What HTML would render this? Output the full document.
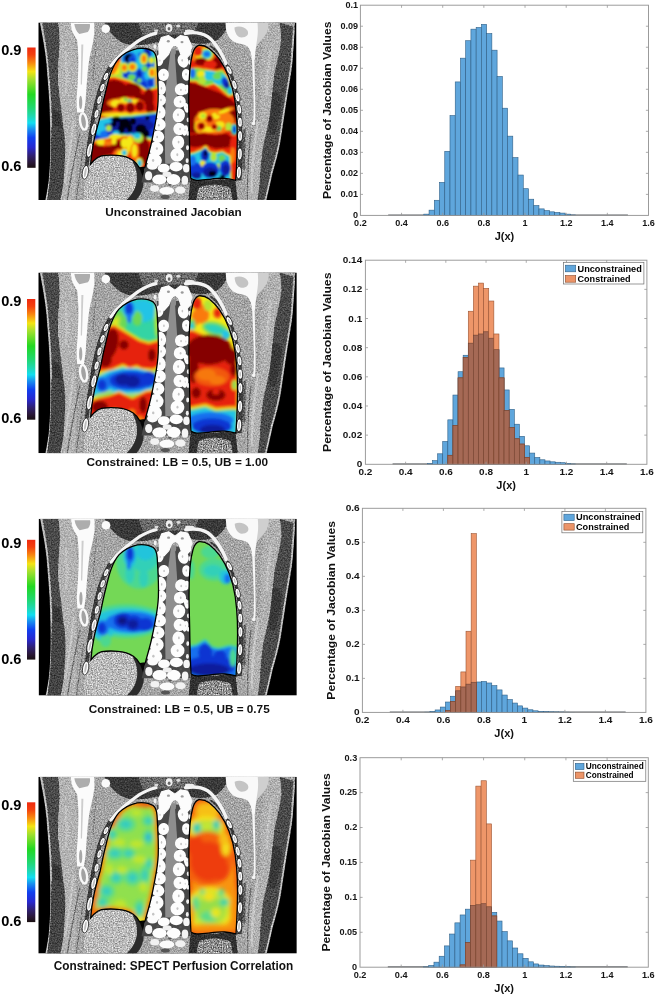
<!DOCTYPE html>
<html><head><meta charset="utf-8"><title>Figure</title>
<style>html,body{margin:0;padding:0;background:#fff}svg{display:block}text{opacity:0.999;font-family:"Liberation Sans",sans-serif;font-weight:bold;fill:#111}.tk{fill:#151515}.lb{fill:#111}.lg{fill:#000}.cb{font-size:14px;fill:#000}.cap{font-size:11.7px;fill:#111}</style></head><body>
<svg width="655" height="994" viewBox="0 0 655 994">
<defs>
<filter id="grain" x="0" y="0" width="100%" height="100%" color-interpolation-filters="sRGB">
<feTurbulence type="fractalNoise" baseFrequency="0.7" numOctaves="2" seed="7" result="n"/>
<feColorMatrix in="n" type="matrix" values="0.8 0 0 0 0.1  0.8 0 0 0 0.1  0.8 0 0 0 0.1  0 0 0 0 1" result="g"/>
<feBlend in="g" in2="SourceGraphic" mode="overlay" result="b"/>
<feComposite in="b" in2="SourceAlpha" operator="in"/>
</filter>
<filter id="grain2" x="0" y="0" width="100%" height="100%" color-interpolation-filters="sRGB">
<feTurbulence type="fractalNoise" baseFrequency="0.8" numOctaves="2" seed="23" result="n"/>
<feColorMatrix in="n" type="matrix" values="1.3 0 0 0 -0.12  1.3 0 0 0 -0.12  1.3 0 0 0 -0.12  0 0 0 0 1" result="g"/>
<feBlend in="g" in2="SourceGraphic" mode="overlay" result="b"/>
<feComposite in="b" in2="SourceAlpha" operator="in"/>
</filter>
<filter id="bonegrain" x="0" y="0" width="100%" height="100%" color-interpolation-filters="sRGB">
<feGaussianBlur in="SourceGraphic" stdDeviation="0.35"/>
</filter>
<filter id="b1" x="-20%" y="-20%" width="140%" height="140%"><feGaussianBlur stdDeviation="1.2"/></filter>
<filter id="b15" x="-20%" y="-20%" width="140%" height="140%"><feGaussianBlur stdDeviation="1.6"/></filter>
<filter id="b2" x="-20%" y="-20%" width="140%" height="140%"><feGaussianBlur stdDeviation="2.2"/></filter>
<filter id="b3" x="-20%" y="-20%" width="140%" height="140%"><feGaussianBlur stdDeviation="3.5"/></filter>
<filter id="b5" x="-20%" y="-20%" width="140%" height="140%"><feGaussianBlur stdDeviation="5"/></filter>
<clipPath id="cl"><path d="M98.7 26.1 C104 25.5 111 26.5 114.6 28.9 C117.5 31 118.2 35 118.5 38.8 C119.3 52 120.2 66 119.7 78.5 C119.3 87 118 95 116.6 102.3 C115.4 109 114 116 112.6 122.1 C110.8 130 108.6 137 106.6 144.6 L101 145.3 C99.5 142.5 97.5 140 94.7 138 C90 134.8 84.5 133.4 78.9 133 C73.5 132.6 68 132.6 63 133.4 C60 134 57.5 136 55.3 138.3 L52.3 141.6 C52.8 134 54 126 55.6 118.1 C57.2 110 59.6 102 61.8 94.3 C63.5 86 65 78 67 70.5 C68.6 63.5 70.3 56.5 72.6 50.1 C74.6 45 77 40 80.5 36 C85.5 31 92 27.5 98.7 26.1 Z"/></clipPath>
<clipPath id="cr"><path d="M160.2 22.9 C164 22.6 167.8 24 170.6 26.1 C174.6 29.2 178 32.8 180.9 36.8 C184.8 42.3 188 48.4 190.4 54.7 C193.4 62.3 195.4 70.4 196.5 78.5 C197.6 86.4 198.3 94.3 198.6 102.3 C198.9 111.5 198.9 120.7 198.6 130 C198.3 139.3 197.9 148.5 197.3 157.8 C193.2 156.6 189.6 156 186 155.8 C180.7 155.5 175.4 156.3 170.1 157 C166.1 157.5 162.2 158 158.2 157.8 C156.1 157.6 154 157 152.3 155.8 C151.6 143.2 151.2 130.7 151.1 118.1 C151 104.9 150.4 91.7 150.3 78.5 C150.2 67.9 150.5 57.3 151.5 46.7 C152 41.3 152.8 36 154.3 30.8 C155.2 27.6 157 24 160.2 22.9 Z"/></clipPath>
<linearGradient id="jet" x1="0" y1="0" x2="0" y2="1">
<stop offset="0" stop-color="#ee2a10"/><stop offset="0.06" stop-color="#f4400e"/><stop offset="0.13" stop-color="#f88a10"/><stop offset="0.20" stop-color="#f4e414"/><stop offset="0.265" stop-color="#a4e02e"/><stop offset="0.39" stop-color="#22d822"/><stop offset="0.50" stop-color="#20d870"/><stop offset="0.57" stop-color="#20d8b0"/><stop offset="0.627" stop-color="#12def0"/><stop offset="0.68" stop-color="#1890f0"/><stop offset="0.75" stop-color="#1040f0"/><stop offset="0.83" stop-color="#2828d0"/><stop offset="0.90" stop-color="#302070"/><stop offset="0.955" stop-color="#2a1838"/><stop offset="1" stop-color="#1a1010"/>
</linearGradient>
<symbol id="ct" viewBox="0 0 258 177.5" preserveAspectRatio="none">
<rect width="258" height="177.5" fill="#000"/>
<g filter="url(#grain)">
<path d="M1.5 0 L256.5 0 L256 8 C255.5 20 254.5 30 254 40 C252.5 53 250 66 248 79 C246 92 244 106 242 119 C240 130 237 141 234 151 C232 160 230 169 228 177.5 L7 177.5 C9 168 10.5 159 11 150 C11.8 140 12 130 12 120 C12 106 11.5 93 11 80 C10.3 66 9 53 8 40 C6.5 26 4 13 1.5 0 Z" fill="#a4a4a4"/>
<path d="M2.5 0 C5 13 7.5 26 9 40 C10 53 11.3 66 12 80 C12.5 93 13 106 13 120 C13 130 12.8 140 12 150 C11.5 159 10 168 8 177.5" fill="none" stroke="#cfcfcf" stroke-width="0.9"/>
<path d="M255.5 8 C255 20 254 30 253 40 C251.5 53 249 66 247 79 C245 92 243 106 241 119 C239 130 236 141 233 151 C231 160 229 169 227 177.5" fill="none" stroke="#cfcfcf" stroke-width="0.9"/>
<path d="M4 0 L20 0 C20.8 6 21.3 12 21.4 18 C21.2 30 19.8 42 19.6 53 C19.8 65 22 77 23.3 89 C24.6 101 26.4 113 26.9 125 C27 137 26 149 25 161 C24.3 167 23 172 22 177.5 L9.5 177.5 C11.5 168 12.5 159 13 150 C13.8 140 14 130 14 120 C14 106 13.5 93 13 80 C12.3 66 11 53 10 40 C8.5 26 6.5 13 4 0 Z" fill="#4a4a4a"/>
<path d="M254.5 4 L241 0 C242 6 242.6 12 242.5 18 C241 30 237.5 42 235.5 53 C234 65 233 77 231.7 89 C230 101 227 113 224.4 125 C222.5 137 221.6 149 221 161 C220.3 167 219.6 172 219 177.5 L226 177.5 C228 169 230 160 232 151 C235 141 238 130 240 119 C242 106 244 92 246 79 C248 66 250.5 53 252 40 C252.5 30 253.5 20 254.5 4 Z" fill="#4a4a4a"/>
<path d="M14 88 C17 86 20 88 22 94 C24 104 25.5 116 26 128 C24.5 134 19 136 15 132 C14 116 14 100 14 88 Z" fill="#363636"/>
<path d="M233.5 70 C237 68 241 70 243.5 76 C242 88 239.5 100 237 111 C233 114 229.5 110 230.5 103 C232 92 233 80 233.5 70 Z" fill="#383838"/>
<path d="M13 104 C20 102 27 106 31 114 C29 124 28 138 27 152 C26.5 162 25 170 23.5 177.5 L9 177.5 C11.5 160 13 140 13 104 Z" fill="#444444"/>
<path d="M20 0 L34 0 C36 16 38 30 39 44 C40 58 39 70 38 82 C37.5 92 38 104 38 116 C38 130 38 142 38 154 L37 177.5 L22 177.5 C23 172 24.3 167 25 161 C26 149 27 137 26.9 125 C26.4 113 24.6 101 23.3 89 C22 77 19.8 65 19.6 53 C19.8 42 21.2 30 21.4 18 C21.3 12 20.8 6 20 0 Z" fill="#b2b2b2"/>
<path d="M241 0 L226 0 C226 16 224 30 222 46 C221 58 222 72 222 84 C222 98 219 110 215 122 C211 134 208 146 207 158 L207 177.5 L219 177.5 C219.6 172 220.3 167 221 161 C221.6 149 222.5 137 224.4 125 C227 113 230 101 231.7 89 C233 77 234 65 235.5 53 C237.5 42 241 30 242.5 18 C242.6 12 242 6 241 0 Z" fill="#b0b0b0"/>
<g fill="none" stroke-linecap="round">
<path d="M41 112 C38 130 33 150 29 177" stroke="#6e6e6e" stroke-width="1.3"/>
<path d="M45 126 C43 142 40 160 38 177" stroke="#777" stroke-width="1.1"/>
<path d="M35 100 C33 120 30 140 27 160" stroke="#c4c4c4" stroke-width="2.2"/>
<path d="M206 108 C205.5 120 205 132 205.5 146" stroke="#5e5e5e" stroke-width="2.6"/>
<path d="M212 112 C210 130 208.5 150 209 177" stroke="#6e6e6e" stroke-width="1.2"/>
<path d="M219 100 C216 120 213.5 145 213 170" stroke="#c6c6c6" stroke-width="2.4"/>
<path d="M27 30 C29 42 29 56 27 70" stroke="#c0c0c0" stroke-width="2.5"/>
<path d="M232 28 C230 42 228.5 56 228 72" stroke="#c0c0c0" stroke-width="2.5"/>
<path d="M58 20 C56 34 55 48 55 60" stroke="#8c8c8c" stroke-width="1.4"/>
</g>
<path d="M66 0 L190 0 C188 8 184 14 178 18 C170 22 160 22 152 20 L118 20 C108 22 98 24 90 22 C80 20 70 10 66 0 Z" fill="#3a3a3a"/>
<path d="M100 0 L160 0 L156 12 L104 12 Z" fill="#6a6a6a"/>
<path d="M152 156 C160 159 170 158 180 157 C186 156.4 192 156.6 197 158 L199 177.5 L150 177.5 Z" fill="#303030"/>
<path d="M160 166 C168 161 184 161 192 166 L194 177.5 L158 177.5 Z" fill="#8a8a8a"/>
<path d="M84.8 33 C78 39 73 46 69 54 C65 63 62 73 59.5 83 C57 94 55 106 53.5 118 C52 128 51 136 50.5 142 L46 150 C47 136 48.5 122 50.5 110 C52.5 97 54.5 85 57.5 74 C60.5 63 64.5 53 69.5 45 C73 39 78 33 84 29.5 Z" fill="#3a3a3a"/>
<path d="M171 24 C177 28 182 34 186 41 C190 48 193.5 57 195.5 66 C197.5 75 199 85 199.8 95 C200.5 107 200.5 120 200 132 C199.7 142 199 150 198 158 L203 158 C204 148 204.3 138 204.3 126 C204.3 112 203.8 98 202.3 86 C200.8 75 198.5 64 195 54 C192 46 188 38 183 32 C179.5 28 176 25 172 22.5 Z" fill="#3a3a3a"/>
</g>
<g filter="url(#grain2)"><path d="M52 142 C56 136 62 133.5 70 133 C80 132.5 90 134 96 139 C101 143 104 150 104 158 C104 166 100 173 96 177.5 L46 177.5 C44 165 46 152 52 142 Z" fill="#b6b6b6"/><path d="M160 166 C168 161 184 161 192 166 L194 177.5 L158 177.5 Z" fill="#8a8a8a"/></g>
<path d="M97 140 C103 146 106 154 105 163 C104 169 101 174 98 177.5 L88 177.5 C94 172 98 165 98.5 157 C99 150 97 144 94 139 Z" fill="#2c2c2c"/>
<path d="M101 145.5 L106.6 144.6 L105 156 Z" fill="#050505"/>
<g filter="url(#bonegrain)">
<path d="M72.3 43.5 C76 38 80 34 85 30 C90 26 95 22 100 18.5 C106 14.8 111 12.2 117.5 11" fill="none" stroke="#f4f4f4" stroke-width="3.2" stroke-linecap="round"/>
<path d="M147 11 C155 9.5 163 10.5 169 14 C175 18 180 26 183.5 32.5 C185.3 36 186.6 38.5 187.5 41" fill="none" stroke="#f4f4f4" stroke-width="3.4" stroke-linecap="round"/>
<path d="M32.5 0 L55.8 0 C56.2 5 56 10 55.4 15 C54.6 22 52.5 29 51 36 C49.8 44 49 52 48.5 60 C48 66 47.6 72 47.3 78 C46.8 82 46 86 45.5 90 L38.8 90 C38.4 86 38.1 82 38.2 78 C38.5 72 39 66 39.4 60 C39.8 52 40 44 40 36 C40 30 39.4 24 38.8 18 C37.5 15 35.5 12.5 34 9 C33 6 32.6 3 32.5 0 Z" fill="#fbfbfb"/>
<path d="M36 1.5 C36.5 5 38 9 41 11.5 L49.5 9.5 C51.5 7 52 4 51.5 1.5 Z" fill="#adadad"/>
<path d="M43 22 L45 22 L43.6 62 L42.4 62 Z" fill="#cdcdcd"/>
<ellipse cx="42.3" cy="80" rx="1.6" ry="6.8" fill="#a8a8a8"/>
<ellipse cx="45.2" cy="99" rx="3.4" ry="8.2" transform="rotate(-8 45.2 99)" fill="#a2a2a2" stroke="#f8f8f8" stroke-width="2.4"/>
<circle cx="67.4" cy="6.4" r="4.3" fill="#fafafa"/>
<path d="M214 0 L230 0 C230.5 5 229 10 226 14 C223 18 219 21 217.5 25 L214 25 Z" fill="#cfcfcf"/><path d="M187 0 L219 0 C219.5 5 219.5 10 219 14 C218.5 18 218 21 217.5 25 C216.8 29 216.5 33 216.3 37 L213.2 37 C213 32 212 27 209 24 C205 21 199 21.5 195 19 C190.5 16 188 11 187.5 6 Z" fill="#f9f9f9"/>
<path d="M196 5 C200 3 206 4 209 8 C211 12 208 15 203 15 C199 15 196 10 196 5 Z" fill="#c4c4c4"/>
<path d="M213.4 35 C214 50 215 66 215.2 82 C215.3 90 215 95 214.6 100 L216.4 100.5 C217 94 217 88 216.8 82 C216.5 66 216.2 50 216 35 Z" fill="#f6f6f6"/>
<circle cx="215" cy="101" r="1.8" fill="#f4f4f4"/>
<path d="M118.5 28 L151.5 28 L151.5 160 L103 160 L111.5 125 L119.5 80 Z" fill="#484848"/>
<path d="M132.5 26.5 L136.1 26.5 L138.6 62.7 L139.5 108.0 L137.7 141.2 L126.8 141.2 L126.2 108.0 L127.7 62.7 Z" fill="#8e8e8e"/>
<ellipse cx="121.0" cy="37.8" rx="4.0" ry="5.9" transform="rotate(8 121.0 37.8)" fill="#fdfdfd"/>
<ellipse cx="121.5" cy="38.2" rx="0.6" ry="1.2" fill="#c4c4c4"/>
<ellipse cx="125.0" cy="52.4" rx="5.5" ry="6.1" transform="rotate(8 125.0 52.4)" fill="#fdfdfd"/>
<ellipse cx="125.4" cy="52.3" rx="0.8" ry="1.2" fill="#c4c4c4"/>
<ellipse cx="122.6" cy="65.4" rx="4.9" ry="7.2" transform="rotate(-9 122.6 65.4)" fill="#fdfdfd"/>
<ellipse cx="123.0" cy="65.9" rx="0.7" ry="1.4" fill="#c4c4c4"/>
<ellipse cx="122.0" cy="77.8" rx="5.5" ry="6.1" transform="rotate(20 122.0 77.8)" fill="#fdfdfd"/>
<ellipse cx="122.6" cy="77.5" rx="0.8" ry="1.2" fill="#c4c4c4"/>
<ellipse cx="121.0" cy="89.6" rx="6.1" ry="7.2" transform="rotate(-14 121.0 89.6)" fill="#fdfdfd"/>
<ellipse cx="121.3" cy="89.6" rx="0.9" ry="1.4" fill="#c4c4c4"/>
<ellipse cx="121.0" cy="102.2" rx="6.3" ry="6.1" transform="rotate(-11 121.0 102.2)" fill="#fdfdfd"/>
<ellipse cx="120.4" cy="102.8" rx="0.9" ry="1.2" fill="#c4c4c4"/>
<ellipse cx="119.5" cy="114.3" rx="6.3" ry="6.1" transform="rotate(20 119.5 114.3)" fill="#fdfdfd"/>
<ellipse cx="118.8" cy="114.6" rx="0.9" ry="1.2" fill="#c4c4c4"/>
<ellipse cx="117.7" cy="126.4" rx="7.3" ry="7.0" transform="rotate(8 117.7 126.4)" fill="#fdfdfd"/>
<ellipse cx="118.5" cy="126.1" rx="1.1" ry="1.4" fill="#c4c4c4"/>
<ellipse cx="115.5" cy="137.4" rx="8.1" ry="6.8" transform="rotate(19 115.5 137.4)" fill="#fdfdfd"/>
<ellipse cx="114.7" cy="138.0" rx="1.2" ry="1.4" fill="#c4c4c4"/>
<ellipse cx="144.6" cy="38.5" rx="5.3" ry="6.8" transform="rotate(-16 144.6 38.5)" fill="#fdfdfd"/>
<ellipse cx="143.8" cy="37.9" rx="0.8" ry="1.4" fill="#c4c4c4"/>
<ellipse cx="147.9" cy="52.4" rx="4.4" ry="5.9" transform="rotate(-8 147.9 52.4)" fill="#fdfdfd"/>
<ellipse cx="147.6" cy="51.8" rx="0.7" ry="1.2" fill="#c4c4c4"/>
<ellipse cx="142.5" cy="66.9" rx="6.1" ry="6.1" transform="rotate(9 142.5 66.9)" fill="#fdfdfd"/>
<ellipse cx="142.5" cy="67.4" rx="0.9" ry="1.2" fill="#c4c4c4"/>
<ellipse cx="147.6" cy="67.2" rx="2.8" ry="5.0" transform="rotate(17 147.6 67.2)" fill="#fdfdfd"/>
<ellipse cx="147.3" cy="67.8" rx="0.4" ry="1.0" fill="#c4c4c4"/>
<ellipse cx="141.3" cy="79.3" rx="6.1" ry="6.1" transform="rotate(-6 141.3 79.3)" fill="#fdfdfd"/>
<ellipse cx="142.0" cy="79.3" rx="0.9" ry="1.2" fill="#c4c4c4"/>
<ellipse cx="140.4" cy="92.9" rx="6.1" ry="7.0" transform="rotate(11 140.4 92.9)" fill="#fdfdfd"/>
<ellipse cx="139.6" cy="92.4" rx="0.9" ry="1.4" fill="#c4c4c4"/>
<ellipse cx="141.0" cy="106.5" rx="6.1" ry="6.1" transform="rotate(9 141.0 106.5)" fill="#fdfdfd"/>
<ellipse cx="141.7" cy="106.5" rx="0.9" ry="1.2" fill="#c4c4c4"/>
<ellipse cx="139.8" cy="120.0" rx="6.1" ry="7.0" transform="rotate(6 139.8 120.0)" fill="#fdfdfd"/>
<ellipse cx="140.2" cy="119.6" rx="0.9" ry="1.4" fill="#c4c4c4"/>
<ellipse cx="138.9" cy="132.4" rx="6.9" ry="6.8" transform="rotate(-4 138.9 132.4)" fill="#fdfdfd"/>
<ellipse cx="138.9" cy="132.3" rx="1.0" ry="1.4" fill="#c4c4c4"/>
<ellipse cx="146.7" cy="108.0" rx="2.8" ry="5.4" transform="rotate(12 146.7 108.0)" fill="#fdfdfd"/>
<ellipse cx="146.6" cy="107.4" rx="0.4" ry="1.1" fill="#c4c4c4"/>
<ellipse cx="147.9" cy="85.3" rx="2.4" ry="5.0" transform="rotate(-16 147.9 85.3)" fill="#fdfdfd"/>
<ellipse cx="148.5" cy="84.9" rx="0.4" ry="1.0" fill="#c4c4c4"/>
<ellipse cx="116.5" cy="24.2" rx="1.5" ry="2.4" fill="#f2f2f2"/>
<ellipse cx="119.2" cy="38.5" rx="1.5" ry="2.4" fill="#f2f2f2"/>
<ellipse cx="117.4" cy="55.1" rx="1.5" ry="2.4" fill="#f2f2f2"/>
<ellipse cx="118.3" cy="68.7" rx="1.5" ry="2.4" fill="#f2f2f2"/>
<ellipse cx="116.5" cy="82.3" rx="1.5" ry="2.4" fill="#f2f2f2"/>
<ellipse cx="115.9" cy="95.9" rx="1.5" ry="2.4" fill="#f2f2f2"/>
<ellipse cx="115.0" cy="108.0" rx="1.5" ry="2.4" fill="#f2f2f2"/>
<ellipse cx="112.4" cy="121.6" rx="1.5" ry="2.4" fill="#f2f2f2"/>
<ellipse cx="110.2" cy="133.6" rx="1.5" ry="2.4" fill="#f2f2f2"/>
<ellipse cx="152.4" cy="24.9" rx="1.5" ry="2.4" fill="#f2f2f2"/>
<ellipse cx="151.2" cy="40.0" rx="1.5" ry="2.4" fill="#f2f2f2"/>
<ellipse cx="152.1" cy="55.1" rx="1.5" ry="2.4" fill="#f2f2f2"/>
<ellipse cx="151.2" cy="69.5" rx="1.5" ry="2.4" fill="#f2f2f2"/>
<ellipse cx="150.3" cy="83.8" rx="1.5" ry="2.4" fill="#f2f2f2"/>
<ellipse cx="149.7" cy="97.4" rx="1.5" ry="2.4" fill="#f2f2f2"/>
<ellipse cx="149.4" cy="111.0" rx="1.5" ry="2.4" fill="#f2f2f2"/>
<ellipse cx="149.1" cy="125.3" rx="1.5" ry="2.4" fill="#f2f2f2"/>
<ellipse cx="148.7" cy="138.2" rx="1.5" ry="2.4" fill="#f2f2f2"/>
<path d="M120.4 22.0 L123.0 15.1 L129.9 13.1 L136.3 17.4 L142.1 13.1 L149.0 14.4 L152.5 22.0 L151.6 31.9 L146.7 37.3 L142.4 31.9 L140.0 25.1 L136.3 22.0 L132.9 25.1 L130.2 31.9 L125.3 37.3 L120.7 31.9 Z" fill="#fcfcfc" stroke="#fcfcfc" stroke-width="1.2" stroke-linejoin="round"/>
<ellipse cx="130.6" cy="5.5" rx="3.4" ry="4.0" fill="#f0f0f0"/>
<ellipse cx="130.6" cy="6.4" rx="1.4" ry="1.8" fill="#666"/>
<ellipse cx="151.0" cy="8.6" rx="4.6" ry="1.5" fill="#eeeeee"/>
<ellipse cx="139.8" cy="3.7" rx="2.1" ry="1.5" fill="#dcdcdc"/>
<ellipse cx="117.7" cy="8.3" rx="2.1" ry="1.2" fill="#d8d8d8"/>
<ellipse cx="129.9" cy="18.9" rx="1.5" ry="1.2" fill="#9a9a9a"/>
<ellipse cx="143.6" cy="19.7" rx="1.5" ry="1.2" fill="#9a9a9a"/>
<ellipse cx="136.3" cy="29.6" rx="1.2" ry="3.1" fill="#8e8e8e"/>
<ellipse cx="114.0" cy="143.4" rx="5.4" ry="3.9" fill="#fbfbfb"/>
<ellipse cx="125.3" cy="145.7" rx="6.0" ry="4.5" fill="#fdfdfd"/>
<ellipse cx="137.7" cy="144.2" rx="6.6" ry="4.8" fill="#fdfdfd"/>
<ellipse cx="147.9" cy="145.7" rx="3.3" ry="4.2" fill="#f6f6f6"/>
<ellipse cx="110.2" cy="153.2" rx="3.6" ry="4.5" fill="#f4f4f4"/>
<ellipse cx="121.0" cy="157.0" rx="7.2" ry="5.1" fill="#fdfdfd"/>
<ellipse cx="135.1" cy="157.0" rx="6.9" ry="5.4" fill="#fdfdfd"/>
<ellipse cx="146.4" cy="157.8" rx="3.3" ry="4.5" fill="#f4f4f4"/>
<ellipse cx="116.2" cy="166.1" rx="4.5" ry="3.3" fill="#f2f2f2"/>
<ellipse cx="128.3" cy="168.3" rx="7.5" ry="3.9" fill="#fbfbfb"/>
<ellipse cx="141.9" cy="167.6" rx="5.1" ry="3.6" fill="#f2f2f2"/>
<ellipse cx="128.6" cy="151.7" rx="4.5" ry="2.7" fill="#f0f0f0"/>
<ellipse cx="119.2" cy="150.2" rx="1.5" ry="1.1" fill="#555"/>
<ellipse cx="131.3" cy="162.3" rx="1.8" ry="0.9" fill="#555"/>
<ellipse cx="141.9" cy="151.0" rx="1.4" ry="1.1" fill="#555"/>
<ellipse cx="126.8" cy="174.4" rx="4.5" ry="2.1" fill="#555"/>
<ellipse cx="67.6" cy="54.0" rx="2.3" ry="4.5" transform="rotate(25 67.6 54.0)" fill="#fdfdfd" stroke="#0a0a0a" stroke-width="0.7"/>
<ellipse cx="67.6" cy="54.0" rx="0.7" ry="2.2" transform="rotate(25 67.6 54.0)" fill="#bdbdbd"/>
<ellipse cx="64.0" cy="65.2" rx="2.4" ry="4.6" transform="rotate(20 64.0 65.2)" fill="#fdfdfd" stroke="#0a0a0a" stroke-width="0.7"/>
<ellipse cx="64.0" cy="65.2" rx="0.8" ry="2.3" transform="rotate(20 64.0 65.2)" fill="#bdbdbd"/>
<ellipse cx="61.0" cy="77.5" rx="2.4" ry="4.6" transform="rotate(15 61.0 77.5)" fill="#fdfdfd" stroke="#0a0a0a" stroke-width="0.7"/>
<ellipse cx="61.0" cy="77.5" rx="0.8" ry="2.3" transform="rotate(15 61.0 77.5)" fill="#bdbdbd"/>
<ellipse cx="58.2" cy="91.4" rx="2.4" ry="4.6" transform="rotate(13 58.2 91.4)" fill="#fdfdfd" stroke="#0a0a0a" stroke-width="0.7"/>
<ellipse cx="58.2" cy="91.4" rx="0.8" ry="2.3" transform="rotate(13 58.2 91.4)" fill="#bdbdbd"/>
<ellipse cx="55.4" cy="106.8" rx="2.7" ry="6.4" transform="rotate(13 55.4 106.8)" fill="#fdfdfd" stroke="#0a0a0a" stroke-width="0.7"/>
<ellipse cx="55.4" cy="106.8" rx="0.9" ry="4.1" transform="rotate(13 55.4 106.8)" fill="#bdbdbd"/>
<ellipse cx="51.4" cy="127.6" rx="2.9" ry="7.4" transform="rotate(12 51.4 127.6)" fill="#fdfdfd" stroke="#0a0a0a" stroke-width="0.7"/>
<ellipse cx="51.4" cy="127.6" rx="0.9" ry="5.1" transform="rotate(12 51.4 127.6)" fill="#bdbdbd"/>
<ellipse cx="47.0" cy="149.9" rx="3.0" ry="7.0" transform="rotate(10 47.0 149.9)" fill="#fdfdfd" stroke="#0a0a0a" stroke-width="0.7"/>
<ellipse cx="47.0" cy="149.9" rx="1.0" ry="4.7" transform="rotate(10 47.0 149.9)" fill="#bdbdbd"/>
<ellipse cx="190.6" cy="47.7" rx="2.4" ry="4.8" transform="rotate(-26 190.6 47.7)" fill="#fdfdfd" stroke="#0a0a0a" stroke-width="0.7"/>
<ellipse cx="190.6" cy="47.7" rx="0.8" ry="2.5" transform="rotate(-26 190.6 47.7)" fill="#bdbdbd"/>
<ellipse cx="196.0" cy="62.4" rx="2.4" ry="4.9" transform="rotate(-15 196.0 62.4)" fill="#fdfdfd" stroke="#0a0a0a" stroke-width="0.7"/>
<ellipse cx="196.0" cy="62.4" rx="0.8" ry="2.6" transform="rotate(-15 196.0 62.4)" fill="#bdbdbd"/>
<ellipse cx="199.0" cy="74.6" rx="2.4" ry="4.9" transform="rotate(-10 199.0 74.6)" fill="#fdfdfd" stroke="#0a0a0a" stroke-width="0.7"/>
<ellipse cx="199.0" cy="74.6" rx="0.8" ry="2.6" transform="rotate(-10 199.0 74.6)" fill="#bdbdbd"/>
<ellipse cx="200.8" cy="86.8" rx="2.4" ry="4.9" transform="rotate(-5 200.8 86.8)" fill="#fdfdfd" stroke="#0a0a0a" stroke-width="0.7"/>
<ellipse cx="200.8" cy="86.8" rx="0.8" ry="2.6" transform="rotate(-5 200.8 86.8)" fill="#bdbdbd"/>
<ellipse cx="201.5" cy="99.8" rx="2.4" ry="4.9" transform="rotate(-2 201.5 99.8)" fill="#fdfdfd" stroke="#0a0a0a" stroke-width="0.7"/>
<ellipse cx="201.5" cy="99.8" rx="0.8" ry="2.6" transform="rotate(-2 201.5 99.8)" fill="#bdbdbd"/>
<ellipse cx="201.6" cy="113.5" rx="2.5" ry="5.4" transform="rotate(0 201.6 113.5)" fill="#fdfdfd" stroke="#0a0a0a" stroke-width="0.7"/>
<ellipse cx="201.6" cy="113.5" rx="0.8" ry="3.1" transform="rotate(0 201.6 113.5)" fill="#bdbdbd"/>
<ellipse cx="201.3" cy="131.5" rx="2.6" ry="6.0" transform="rotate(2 201.3 131.5)" fill="#fdfdfd" stroke="#0a0a0a" stroke-width="0.7"/>
<ellipse cx="201.3" cy="131.5" rx="0.8" ry="3.7" transform="rotate(2 201.3 131.5)" fill="#bdbdbd"/>
<ellipse cx="200.4" cy="150.0" rx="2.6" ry="6.2" transform="rotate(3 200.4 150.0)" fill="#fdfdfd" stroke="#0a0a0a" stroke-width="0.7"/>
<ellipse cx="200.4" cy="150.0" rx="0.8" ry="3.9" transform="rotate(3 200.4 150.0)" fill="#bdbdbd"/>
</g>
</symbol></defs>
<rect width="655" height="994" fill="#fff"/>
<svg x="38.30" y="22.40" width="258.20" height="177.60" viewBox="0 0 258 177.5" preserveAspectRatio="none">
<use href="#ct" x="0" y="0" width="258" height="177.5"/>
<g clip-path="url(#cl)"><rect x="40" y="15" width="170" height="150" fill="#20c4e6"/><g filter="url(#b1)"><ellipse cx="82.5" cy="51.4" rx="11.7" ry="12.5" fill="#6cd854"/>
<ellipse cx="80.5" cy="53.0" rx="6.8" ry="8.0" fill="#b4e436"/>
<ellipse cx="78.4" cy="44.6" rx="4.7" ry="11.0" fill="#f4e816" transform="rotate(25 78.4 44.6)"/>
<ellipse cx="77.1" cy="43.9" rx="2.9" ry="9.5" fill="#fa7a0c" transform="rotate(25 77.1 43.9)"/>
<ellipse cx="80.5" cy="35.1" rx="3.2" ry="5.0" fill="#e6220a" transform="rotate(40 80.5 35.1)"/>
<ellipse cx="103.5" cy="48.6" rx="14.0" ry="18.5" fill="#1870ee"/>
<ellipse cx="100.8" cy="43.2" rx="5.0" ry="6.5" fill="#20c4e6"/>
<ellipse cx="110.3" cy="52.7" rx="4.3" ry="5.0" fill="#20c4e6"/>
<ellipse cx="91.3" cy="36.4" rx="9.2" ry="8.9" fill="#20c4e6"/>
<ellipse cx="91.3" cy="36.4" rx="7.4" ry="7.1" fill="#1870ee"/>
<ellipse cx="91.3" cy="36.4" rx="5.6" ry="5.3" fill="#0c34d2"/>
<ellipse cx="90.6" cy="35.7" rx="4.6" ry="4.4" fill="#06030f"/>
<ellipse cx="109.0" cy="31.0" rx="4.3" ry="7.6" fill="#1870ee"/>
<ellipse cx="109.0" cy="31.0" rx="3.2" ry="6.5" fill="#0c34d2"/>
<ellipse cx="87.9" cy="52.0" rx="3.8" ry="6.1" fill="#1870ee"/>
<ellipse cx="87.9" cy="52.0" rx="2.8" ry="5.0" fill="#0c34d2"/>
<ellipse cx="100.8" cy="51.4" rx="4.0" ry="5.8" fill="#1870ee"/>
<ellipse cx="100.8" cy="51.4" rx="2.9" ry="4.7" fill="#0c34d2"/>
<ellipse cx="109.3" cy="43.2" rx="3.8" ry="5.2" fill="#1870ee"/>
<ellipse cx="109.3" cy="43.2" rx="2.8" ry="4.1" fill="#0c34d2"/>
<ellipse cx="105.2" cy="62.9" rx="4.4" ry="5.2" fill="#1870ee"/>
<ellipse cx="105.2" cy="62.9" rx="3.4" ry="4.1" fill="#0c34d2"/>
<ellipse cx="112.0" cy="60.6" rx="3.8" ry="4.9" fill="#1870ee"/>
<ellipse cx="112.0" cy="60.6" rx="2.8" ry="3.8" fill="#0c34d2"/>
<ellipse cx="98.8" cy="58.1" rx="3.7" ry="4.6" fill="#1870ee"/>
<ellipse cx="98.8" cy="58.1" rx="2.6" ry="3.5" fill="#0c34d2"/>
<ellipse cx="94.0" cy="37.8" rx="3.7" ry="4.6" fill="#1870ee"/>
<ellipse cx="94.0" cy="37.8" rx="2.6" ry="3.5" fill="#0c34d2"/>
<ellipse cx="109.0" cy="30.3" rx="1.9" ry="3.8" fill="#0a1a9c"/>
<ellipse cx="100.8" cy="52.0" rx="1.7" ry="2.6" fill="#0a1a9c"/>
<ellipse cx="85.9" cy="45.2" rx="5.0" ry="5.3" fill="#6cd854"/>
<ellipse cx="85.9" cy="45.2" rx="4.0" ry="4.3" fill="#f4e816"/>
<ellipse cx="85.9" cy="45.2" rx="2.6" ry="2.9" fill="#fa7a0c"/>
<ellipse cx="94.0" cy="44.6" rx="5.3" ry="5.3" fill="#6cd854"/>
<ellipse cx="94.0" cy="44.6" rx="4.3" ry="4.3" fill="#f4e816"/>
<ellipse cx="94.0" cy="44.6" rx="2.9" ry="2.9" fill="#fa7a0c"/>
<ellipse cx="105.6" cy="36.4" rx="4.6" ry="6.2" fill="#6cd854"/>
<ellipse cx="105.6" cy="36.4" rx="3.5" ry="5.2" fill="#f4e816"/>
<ellipse cx="105.6" cy="36.4" rx="2.2" ry="3.8" fill="#fa7a0c"/>
<ellipse cx="113.7" cy="50.0" rx="4.6" ry="5.9" fill="#6cd854"/>
<ellipse cx="113.7" cy="50.0" rx="3.5" ry="4.9" fill="#f4e816"/>
<ellipse cx="113.7" cy="50.0" rx="2.2" ry="3.5" fill="#fa7a0c"/>
<ellipse cx="113.1" cy="37.8" rx="2.9" ry="3.5" fill="#b4e436"/>
<ellipse cx="113.1" cy="37.8" rx="1.9" ry="2.3" fill="#f4e816"/>
<ellipse cx="106.3" cy="46.2" rx="2.9" ry="2.9" fill="#6cd854"/>
<ellipse cx="93.4" cy="54.8" rx="3.8" ry="2.9" fill="#6cd854"/>
<ellipse cx="100.8" cy="58.1" rx="2.3" ry="2.3" fill="#6cd854"/>
<ellipse cx="117.7" cy="51.4" rx="1.4" ry="21.5" fill="#f4e816"/>
<ellipse cx="118.2" cy="58.1" rx="1.1" ry="14.0" fill="#fa7a0c"/>
<path d="M60.1 60.9 L69.6 56.1 L75.7 55.4 L91.3 59.8 L100.8 64.9 L107.6 69.7 L111.7 68.3 L119.8 66.3 L119.8 94.8 L54.6 97.5 Z" fill="#6cd854" stroke="#6cd854" stroke-width="5.7" stroke-linejoin="round"/>
<path d="M60.1 60.9 L69.6 56.1 L75.7 55.4 L91.3 59.8 L100.8 64.9 L107.6 69.7 L111.7 68.3 L119.8 66.3 L119.8 94.8 L54.6 97.5 Z" fill="#f4e816" stroke="#f4e816" stroke-width="3.8" stroke-linejoin="round"/>
<path d="M60.1 60.9 L69.6 56.1 L75.7 55.4 L91.3 59.8 L100.8 64.9 L107.6 69.7 L111.7 68.3 L119.8 66.3 L119.8 94.8 L54.6 97.5 Z" fill="#fa7a0c" stroke="#fa7a0c" stroke-width="1.9" stroke-linejoin="round"/>
<path d="M60.1 60.9 L69.6 56.1 L75.7 55.4 L91.3 59.8 L100.8 64.9 L107.6 69.7 L111.7 68.3 L119.8 66.3 L119.8 94.8 L54.6 97.5 Z" fill="#e6220a"/>
<ellipse cx="75.7" cy="69.7" rx="13.7" ry="12.2" fill="#860600"/>
<ellipse cx="93.4" cy="67.7" rx="9.5" ry="6.8" fill="#860600"/>
<ellipse cx="110.3" cy="75.1" rx="5.0" ry="9.2" fill="#860600"/>
<ellipse cx="66.9" cy="85.3" rx="8.0" ry="8.8" fill="#860600"/>
<ellipse cx="101.5" cy="75.8" rx="5.0" ry="5.0" fill="#860600"/>
<ellipse cx="87.2" cy="80.6" rx="18.5" ry="5.3" fill="#fa7a0c"/>
<ellipse cx="78.0" cy="81.0" rx="5.6" ry="3.5" fill="#f4e816"/>
<ellipse cx="86.2" cy="77.8" rx="4.4" ry="2.9" fill="#f4e816"/>
<ellipse cx="96.1" cy="79.6" rx="4.4" ry="2.9" fill="#f4e816"/>
<ellipse cx="91.3" cy="78.8" rx="2.3" ry="2.3" fill="#34d4a4"/>
<ellipse cx="87.2" cy="77.2" rx="2.0" ry="1.7" fill="#6cd854"/>
<ellipse cx="91.3" cy="91.8" rx="28.9" ry="3.8" fill="#fa7a0c"/>
<ellipse cx="87.2" cy="92.4" rx="25.9" ry="2.0" fill="#f4e816"/>
<ellipse cx="82.5" cy="85.3" rx="4.7" ry="5.0" fill="#e6220a"/>
<ellipse cx="82.5" cy="85.3" rx="3.5" ry="3.8" fill="#860600"/>
<ellipse cx="92.0" cy="85.3" rx="5.3" ry="5.9" fill="#e6220a"/>
<ellipse cx="92.0" cy="85.3" rx="4.1" ry="4.7" fill="#860600"/>
<ellipse cx="101.5" cy="83.7" rx="5.2" ry="5.9" fill="#e6220a"/>
<ellipse cx="101.5" cy="83.7" rx="4.0" ry="4.7" fill="#860600"/>
<ellipse cx="111.7" cy="85.3" rx="4.3" ry="6.5" fill="#860600"/>
<path d="M54.6 100.3 L62.8 98.2 L73.7 95.9 L94.0 94.5 L119.8 91.4 L119.8 115.9 L110.3 114.5 L100.8 112.5 L92.7 111.8 L84.5 111.1 L73.7 112.5 L64.2 116.6 L54.6 120.6 Z" fill="#f4e816" stroke="#f4e816" stroke-width="4.9" stroke-linejoin="round"/>
<path d="M54.6 100.3 L62.8 98.2 L73.7 95.9 L94.0 94.5 L119.8 91.4 L119.8 115.9 L110.3 114.5 L100.8 112.5 L92.7 111.8 L84.5 111.1 L73.7 112.5 L64.2 116.6 L54.6 120.6 Z" fill="#6cd854" stroke="#6cd854" stroke-width="3.3" stroke-linejoin="round"/>
<path d="M54.6 100.3 L62.8 98.2 L73.7 95.9 L94.0 94.5 L119.8 91.4 L119.8 115.9 L110.3 114.5 L100.8 112.5 L92.7 111.8 L84.5 111.1 L73.7 112.5 L64.2 116.6 L54.6 120.6 Z" fill="#20c4e6" stroke="#20c4e6" stroke-width="1.6" stroke-linejoin="round"/>
<path d="M54.6 100.3 L62.8 98.2 L73.7 95.9 L94.0 94.5 L119.8 91.4 L119.8 115.9 L110.3 114.5 L100.8 112.5 L92.7 111.8 L84.5 111.1 L73.7 112.5 L64.2 116.6 L54.6 120.6 Z" fill="#0c34d2"/>
<ellipse cx="91.3" cy="103.0" rx="24.4" ry="8.0" fill="#0a1a9c"/>
<ellipse cx="78.0" cy="96.9" rx="4.4" ry="2.9" fill="#06030f"/>
<ellipse cx="86.2" cy="100.9" rx="5.6" ry="5.3" fill="#06030f"/>
<ellipse cx="83.2" cy="106.4" rx="3.5" ry="5.0" fill="#06030f"/>
<ellipse cx="102.5" cy="106.4" rx="5.6" ry="4.7" fill="#06030f"/>
<ellipse cx="107.1" cy="111.1" rx="4.1" ry="4.1" fill="#06030f"/>
<ellipse cx="94.7" cy="98.9" rx="2.9" ry="3.5" fill="#06030f"/>
<ellipse cx="91.3" cy="105.7" rx="2.9" ry="4.4" fill="#06030f"/>
<ellipse cx="75.7" cy="101.6" rx="2.6" ry="2.6" fill="#06030f"/>
<ellipse cx="109.0" cy="95.5" rx="2.3" ry="2.0" fill="#06030f"/>
<ellipse cx="62.1" cy="106.4" rx="5.3" ry="7.3" fill="#20c4e6"/>
<ellipse cx="66.9" cy="98.9" rx="6.5" ry="2.6" fill="#20c4e6"/>
<ellipse cx="70.4" cy="105.7" rx="2.8" ry="3.2" fill="#b4e436"/>
<ellipse cx="65.5" cy="112.5" rx="4.3" ry="4.3" fill="#1870ee"/>
<ellipse cx="77.7" cy="111.1" rx="3.5" ry="2.9" fill="#20c4e6"/>
<ellipse cx="92.7" cy="113.2" rx="4.1" ry="2.3" fill="#20c4e6"/>
<path d="M51.9 122.0 L58.7 118.6 L68.2 117.2 L77.7 115.2 L87.2 114.5 L94.0 117.9 L103.5 117.2 L111.7 118.6 L119.8 119.3 L119.8 169.5 L51.9 169.5 Z" fill="#f4e816" stroke="#f4e816" stroke-width="3.3" stroke-linejoin="round"/>
<path d="M51.9 122.0 L58.7 118.6 L68.2 117.2 L77.7 115.2 L87.2 114.5 L94.0 117.9 L103.5 117.2 L111.7 118.6 L119.8 119.3 L119.8 169.5 L51.9 169.5 Z" fill="#fa7a0c" stroke="#fa7a0c" stroke-width="1.6" stroke-linejoin="round"/>
<path d="M51.9 122.0 L58.7 118.6 L68.2 117.2 L77.7 115.2 L87.2 114.5 L94.0 117.9 L103.5 117.2 L111.7 118.6 L119.8 119.3 L119.8 169.5 L51.9 169.5 Z" fill="#e6220a"/>
<ellipse cx="59.4" cy="132.8" rx="8.8" ry="11.7" fill="#860600"/>
<ellipse cx="78.0" cy="123.1" rx="6.8" ry="5.6" fill="#860600"/>
<ellipse cx="105.9" cy="128.1" rx="5.6" ry="13.2" fill="#860600"/>
<ellipse cx="70.3" cy="127.7" rx="4.7" ry="4.7" fill="#860600"/>
<ellipse cx="62.8" cy="119.9" rx="5.0" ry="3.1" fill="#f4e816"/>
<ellipse cx="77.1" cy="114.1" rx="6.2" ry="2.5" fill="#f4e816"/>
<ellipse cx="70.3" cy="120.6" rx="5.0" ry="2.6" fill="#fa7a0c"/>
<ellipse cx="91.3" cy="122.0" rx="5.3" ry="9.8" fill="#fa7a0c"/>
<ellipse cx="91.3" cy="121.3" rx="3.4" ry="8.0" fill="#f4e816"/>
<ellipse cx="96.1" cy="128.8" rx="4.4" ry="8.3" fill="#fa7a0c"/>
<ellipse cx="96.1" cy="128.1" rx="2.6" ry="6.5" fill="#f4e816"/>
<ellipse cx="99.7" cy="115.5" rx="5.3" ry="5.0" fill="#b4e436"/>
<ellipse cx="98.8" cy="113.2" rx="3.5" ry="2.8" fill="#20c4e6"/>
<ellipse cx="85.9" cy="120.6" rx="3.5" ry="5.0" fill="#f4e816"/>
<ellipse cx="80.5" cy="132.8" rx="5.0" ry="6.5" fill="#fa7a0c"/>
<ellipse cx="81.1" cy="132.8" rx="2.3" ry="4.3" fill="#f4e816"/>
<ellipse cx="85.9" cy="130.1" rx="4.1" ry="4.4" fill="#f4e816"/>
<ellipse cx="85.9" cy="130.4" rx="2.5" ry="2.8" fill="#20c4e6"/>
<ellipse cx="100.8" cy="140.3" rx="3.8" ry="5.3" fill="#f4e816"/>
<ellipse cx="101.1" cy="140.7" rx="2.3" ry="3.8" fill="#20c4e6"/>
<ellipse cx="68.2" cy="136.9" rx="5.3" ry="3.5" fill="#fa7a0c"/>
<ellipse cx="87.2" cy="139.6" rx="5.3" ry="3.8" fill="#fa7a0c"/>
<ellipse cx="75.7" cy="117.2" rx="2.6" ry="5.0" fill="#f4e816"/></g></g><path d="M98.7 26.1 C104 25.5 111 26.5 114.6 28.9 C117.5 31 118.2 35 118.5 38.8 C119.3 52 120.2 66 119.7 78.5 C119.3 87 118 95 116.6 102.3 C115.4 109 114 116 112.6 122.1 C110.8 130 108.6 137 106.6 144.6 L101 145.3 C99.5 142.5 97.5 140 94.7 138 C90 134.8 84.5 133.4 78.9 133 C73.5 132.6 68 132.6 63 133.4 C60 134 57.5 136 55.3 138.3 L52.3 141.6 C52.8 134 54 126 55.6 118.1 C57.2 110 59.6 102 61.8 94.3 C63.5 86 65 78 67 70.5 C68.6 63.5 70.3 56.5 72.6 50.1 C74.6 45 77 40 80.5 36 C85.5 31 92 27.5 98.7 26.1 Z" fill="none" stroke="#000" stroke-width="1.3"/><g clip-path="url(#cr)"><rect x="40" y="15" width="170" height="150" fill="#e6220a"/><g filter="url(#b1)"><ellipse cx="160.9" cy="31.0" rx="9.5" ry="9.5" fill="#fa7a0c"/>
<ellipse cx="163.7" cy="33.7" rx="6.5" ry="3.5" fill="#f4e816"/>
<ellipse cx="168.4" cy="31.7" rx="7.3" ry="6.7" fill="#f4e816"/>
<ellipse cx="168.4" cy="31.7" rx="5.9" ry="5.3" fill="#6cd854"/>
<ellipse cx="168.4" cy="31.7" rx="4.6" ry="4.0" fill="#20c4e6"/>
<ellipse cx="168.4" cy="31.7" rx="3.2" ry="2.6" fill="#1870ee"/>
<ellipse cx="159.6" cy="28.9" rx="4.3" ry="5.0" fill="#e6220a"/>
<ellipse cx="162.6" cy="39.1" rx="6.2" ry="3.8" fill="#860600"/>
<ellipse cx="178.9" cy="40.8" rx="5.6" ry="6.2" fill="#860600"/>
<ellipse cx="171.8" cy="41.8" rx="6.5" ry="4.3" fill="#e6220a"/>
<path d="M150.1 46.6 L158.2 45.9 L167.7 47.6 L177.2 49.3 L184.0 48.0 L190.8 58.1 L194.9 71.7 L190.8 73.1 L186.8 69.7 L181.3 64.9 L175.9 60.9 L170.5 62.2 L163.7 63.6 L158.2 58.1 L150.1 58.1 Z" fill="#fa7a0c" stroke="#fa7a0c" stroke-width="3.3" stroke-linejoin="round"/>
<path d="M150.1 46.6 L158.2 45.9 L167.7 47.6 L177.2 49.3 L184.0 48.0 L190.8 58.1 L194.9 71.7 L190.8 73.1 L186.8 69.7 L181.3 64.9 L175.9 60.9 L170.5 62.2 L163.7 63.6 L158.2 58.1 L150.1 58.1 Z" fill="#f4e816" stroke="#f4e816" stroke-width="1.6" stroke-linejoin="round"/>
<path d="M150.1 46.6 L158.2 45.9 L167.7 47.6 L177.2 49.3 L184.0 48.0 L190.8 58.1 L194.9 71.7 L190.8 73.1 L186.8 69.7 L181.3 64.9 L175.9 60.9 L170.5 62.2 L163.7 63.6 L158.2 58.1 L150.1 58.1 Z" fill="#6cd854"/>
<ellipse cx="171.1" cy="53.0" rx="8.0" ry="4.7" fill="#20c4e6"/>
<ellipse cx="181.3" cy="56.8" rx="7.3" ry="5.8" fill="#20c4e6"/>
<ellipse cx="154.2" cy="50.7" rx="2.8" ry="5.0" fill="#1870ee"/>
<ellipse cx="162.6" cy="51.6" rx="3.8" ry="3.5" fill="#f4e816"/>
<ellipse cx="163.7" cy="58.1" rx="3.8" ry="4.7" fill="#b4e436"/>
<ellipse cx="178.6" cy="53.8" rx="4.3" ry="3.5" fill="#6cd854"/>
<ellipse cx="187.0" cy="60.6" rx="3.5" ry="5.8" fill="#0c34d2" transform="rotate(-20 187.0 60.6)"/>
<ellipse cx="188.8" cy="62.5" rx="2.0" ry="3.2" fill="#0a1a9c" transform="rotate(-20 188.8 62.5)"/>
<ellipse cx="191.9" cy="67.9" rx="2.6" ry="3.8" fill="#20c4e6"/>
<path d="M148.7 59.5 L158.2 61.5 L170.5 66.3 L181.3 70.4 L190.8 75.8 L197.6 81.2 L197.6 90.7 L177.2 88.7 L158.2 89.4 L148.7 93.5 Z" fill="#e6220a" stroke="#e6220a" stroke-width="2.2" stroke-linejoin="round"/>
<path d="M148.7 59.5 L158.2 61.5 L170.5 66.3 L181.3 70.4 L190.8 75.8 L197.6 81.2 L197.6 90.7 L177.2 88.7 L158.2 89.4 L148.7 93.5 Z" fill="#860600"/>
<ellipse cx="154.2" cy="98.9" rx="5.8" ry="18.5" fill="#860600"/>
<ellipse cx="194.9" cy="93.5" rx="4.3" ry="7.3" fill="#860600"/>
<ellipse cx="175.9" cy="98.9" rx="20.0" ry="12.5" fill="#fa7a0c"/>
<ellipse cx="164.3" cy="93.5" rx="4.3" ry="3.8" fill="#f4e816"/>
<ellipse cx="164.8" cy="93.5" rx="2.3" ry="2.3" fill="#b4e436"/>
<ellipse cx="177.2" cy="93.5" rx="4.3" ry="3.2" fill="#f4e816"/>
<ellipse cx="186.8" cy="88.7" rx="9.5" ry="2.6" fill="#fa7a0c" transform="rotate(-20 186.8 88.7)"/>
<ellipse cx="185.4" cy="88.7" rx="6.5" ry="1.6" fill="#f4e816" transform="rotate(-20 185.4 88.7)"/>
<ellipse cx="162.3" cy="104.3" rx="6.2" ry="6.2" fill="#f4e816"/>
<ellipse cx="162.3" cy="104.3" rx="5.0" ry="5.0" fill="#fa7a0c"/>
<ellipse cx="170.5" cy="107.0" rx="8.0" ry="2.6" fill="#f4e816"/>
<ellipse cx="181.3" cy="102.3" rx="5.0" ry="3.5" fill="#f4e816"/>
<ellipse cx="180.2" cy="106.0" rx="2.9" ry="2.6" fill="#6cd854"/>
<ellipse cx="190.2" cy="104.3" rx="3.2" ry="4.3" fill="#b4e436"/>
<ellipse cx="171.1" cy="96.2" rx="3.8" ry="4.0" fill="#e6220a"/>
<ellipse cx="171.1" cy="96.2" rx="2.8" ry="2.9" fill="#860600"/>
<ellipse cx="163.0" cy="103.6" rx="3.8" ry="4.0" fill="#e6220a"/>
<ellipse cx="163.0" cy="103.6" rx="2.8" ry="2.9" fill="#860600"/>
<ellipse cx="175.9" cy="104.3" rx="3.2" ry="3.2" fill="#e6220a"/>
<ellipse cx="175.9" cy="104.3" rx="2.0" ry="2.0" fill="#860600"/>
<ellipse cx="196.0" cy="107.0" rx="3.8" ry="5.9" fill="#6cd854"/>
<ellipse cx="196.0" cy="107.0" rx="2.8" ry="4.9" fill="#20c4e6"/>
<ellipse cx="196.0" cy="107.0" rx="1.7" ry="3.8" fill="#0c34d2"/>
<path d="M148.7 112.5 L163.7 111.1 L177.2 112.5 L188.1 111.1 L193.5 115.2 L190.8 124.7 L177.2 126.1 L167.7 122.7 L156.9 124.7 L148.7 123.3 Z" fill="#e6220a" stroke="#e6220a" stroke-width="2.2" stroke-linejoin="round"/>
<path d="M148.7 112.5 L163.7 111.1 L177.2 112.5 L188.1 111.1 L193.5 115.2 L190.8 124.7 L177.2 126.1 L167.7 122.7 L156.9 124.7 L148.7 123.3 Z" fill="#860600"/>
<ellipse cx="194.9" cy="123.3" rx="3.5" ry="9.5" fill="#e6220a"/>
<ellipse cx="194.2" cy="132.8" rx="2.9" ry="8.0" fill="#fa7a0c"/>
<path d="M148.7 132.8 L156.9 130.8 L163.7 128.1 L167.1 125.4 L170.5 130.1 L177.2 131.5 L184.0 130.1 L190.8 134.2 L192.2 169.5 L148.7 169.5 Z" fill="#fa7a0c" stroke="#fa7a0c" stroke-width="4.9" stroke-linejoin="round"/>
<path d="M148.7 132.8 L156.9 130.8 L163.7 128.1 L167.1 125.4 L170.5 130.1 L177.2 131.5 L184.0 130.1 L190.8 134.2 L192.2 169.5 L148.7 169.5 Z" fill="#f4e816" stroke="#f4e816" stroke-width="3.3" stroke-linejoin="round"/>
<path d="M148.7 132.8 L156.9 130.8 L163.7 128.1 L167.1 125.4 L170.5 130.1 L177.2 131.5 L184.0 130.1 L190.8 134.2 L192.2 169.5 L148.7 169.5 Z" fill="#6cd854" stroke="#6cd854" stroke-width="1.6" stroke-linejoin="round"/>
<path d="M148.7 132.8 L156.9 130.8 L163.7 128.1 L167.1 125.4 L170.5 130.1 L177.2 131.5 L184.0 130.1 L190.8 134.2 L192.2 169.5 L148.7 169.5 Z" fill="#20c4e6"/>
<ellipse cx="166.4" cy="132.8" rx="4.3" ry="6.5" fill="#0c34d2"/>
<ellipse cx="166.7" cy="132.2" rx="2.3" ry="4.7" fill="#0a1a9c"/>
<ellipse cx="167.1" cy="130.8" rx="1.4" ry="2.6" fill="#06030f"/>
<ellipse cx="175.2" cy="134.5" rx="3.2" ry="4.3" fill="#b4e436"/>
<ellipse cx="164.3" cy="141.3" rx="2.6" ry="3.2" fill="#f4e816"/>
<ellipse cx="183.4" cy="135.8" rx="3.5" ry="3.8" fill="#6cd854"/>
<ellipse cx="180.0" cy="143.7" rx="2.0" ry="2.9" fill="#b4e436"/>
<ellipse cx="156.9" cy="147.8" rx="7.1" ry="8.0" fill="#0c34d2"/>
<ellipse cx="171.8" cy="147.8" rx="8.8" ry="8.0" fill="#0c34d2"/>
<ellipse cx="171.8" cy="149.8" rx="7.1" ry="5.3" fill="#0a1a9c"/>
<ellipse cx="186.8" cy="145.8" rx="5.6" ry="8.0" fill="#0c34d2"/>
<ellipse cx="187.4" cy="147.1" rx="3.2" ry="5.0" fill="#0a1a9c"/>
<ellipse cx="173.9" cy="151.2" rx="3.8" ry="2.9" fill="#06030f"/>
<ellipse cx="158.2" cy="153.2" rx="5.0" ry="3.5" fill="#0a1a9c"/>
<ellipse cx="184.0" cy="154.6" rx="2.9" ry="2.3" fill="#06030f"/>
<ellipse cx="154.2" cy="138.3" rx="3.5" ry="5.0" fill="#1870ee"/></g></g><path d="M160.2 22.9 C164 22.6 167.8 24 170.6 26.1 C174.6 29.2 178 32.8 180.9 36.8 C184.8 42.3 188 48.4 190.4 54.7 C193.4 62.3 195.4 70.4 196.5 78.5 C197.6 86.4 198.3 94.3 198.6 102.3 C198.9 111.5 198.9 120.7 198.6 130 C198.3 139.3 197.9 148.5 197.3 157.8 C193.2 156.6 189.6 156 186 155.8 C180.7 155.5 175.4 156.3 170.1 157 C166.1 157.5 162.2 158 158.2 157.8 C156.1 157.6 154 157 152.3 155.8 C151.6 143.2 151.2 130.7 151.1 118.1 C151 104.9 150.4 91.7 150.3 78.5 C150.2 67.9 150.5 57.3 151.5 46.7 C152 41.3 152.8 36 154.3 30.8 C155.2 27.6 157 24 160.2 22.9 Z" fill="none" stroke="#000" stroke-width="1.3"/>
</svg>
<rect x="27.20" y="47.50" width="8.40" height="120.30" fill="url(#jet)"/>
<text x="1.2" y="54.7" class="cb" textLength="20.3" lengthAdjust="spacingAndGlyphs">0.9</text>
<text x="1.2" y="171.2" class="cb" textLength="20.3" lengthAdjust="spacingAndGlyphs">0.6</text>
<text x="105.3" y="216.4" class="cap" style="font-size:11.7px" textLength="136.3" lengthAdjust="spacingAndGlyphs">Unconstrained Jacobian</text>
<svg x="38.30" y="272.50" width="258.50" height="180.70" viewBox="0 0 258 177.5" preserveAspectRatio="none">
<use href="#ct" x="0" y="0" width="258" height="177.5"/>
<g clip-path="url(#cl)"><rect x="40" y="15" width="170" height="150" fill="#34d4a4"/><g filter="url(#b15)"><ellipse cx="80.5" cy="48.6" rx="8.0" ry="11.0" fill="#6cd854"/>
<ellipse cx="77.5" cy="50.0" rx="3.8" ry="8.0" fill="#b4e436" transform="rotate(20 77.5 50.0)"/>
<ellipse cx="75.7" cy="51.4" rx="2.0" ry="5.8" fill="#f4e816" transform="rotate(20 75.7 51.4)"/>
<ellipse cx="103.5" cy="37.8" rx="14.0" ry="11.0" fill="#20c4e6"/>
<ellipse cx="98.8" cy="45.2" rx="5.0" ry="7.3" fill="#6cd854"/>
<ellipse cx="117.9" cy="47.3" rx="2.0" ry="17.0" fill="#b4e436"/>
<ellipse cx="90.6" cy="35.7" rx="6.5" ry="9.2" fill="#20c4e6"/>
<ellipse cx="90.6" cy="35.7" rx="5.0" ry="7.7" fill="#1870ee"/>
<ellipse cx="90.6" cy="35.7" rx="3.5" ry="6.2" fill="#0c34d2"/>
<ellipse cx="90.6" cy="44.6" rx="2.3" ry="5.0" fill="#1870ee"/>
<path d="M60.1 58.1 L70.9 53.8 L75.7 53.0 L87.2 59.8 L100.8 67.9 L110.3 70.6 L120.5 67.9 L120.5 91.4 L114.4 94.1 L103.5 93.2 L98.1 90.7 L91.3 92.8 L84.5 89.4 L73.7 94.1 L54.6 97.5 Z" fill="#b4e436" stroke="#b4e436" stroke-width="6.5" stroke-linejoin="round"/>
<path d="M60.1 58.1 L70.9 53.8 L75.7 53.0 L87.2 59.8 L100.8 67.9 L110.3 70.6 L120.5 67.9 L120.5 91.4 L114.4 94.1 L103.5 93.2 L98.1 90.7 L91.3 92.8 L84.5 89.4 L73.7 94.1 L54.6 97.5 Z" fill="#f4e816" stroke="#f4e816" stroke-width="4.3" stroke-linejoin="round"/>
<path d="M60.1 58.1 L70.9 53.8 L75.7 53.0 L87.2 59.8 L100.8 67.9 L110.3 70.6 L120.5 67.9 L120.5 91.4 L114.4 94.1 L103.5 93.2 L98.1 90.7 L91.3 92.8 L84.5 89.4 L73.7 94.1 L54.6 97.5 Z" fill="#fa7a0c" stroke="#fa7a0c" stroke-width="2.2" stroke-linejoin="round"/>
<path d="M60.1 58.1 L70.9 53.8 L75.7 53.0 L87.2 59.8 L100.8 67.9 L110.3 70.6 L120.5 67.9 L120.5 91.4 L114.4 94.1 L103.5 93.2 L98.1 90.7 L91.3 92.8 L84.5 89.4 L73.7 94.1 L54.6 97.5 Z" fill="#e6220a"/>
<ellipse cx="71.6" cy="70.4" rx="8.0" ry="15.5" fill="#860600" transform="rotate(15 71.6 70.4)"/>
<ellipse cx="66.9" cy="85.3" rx="6.5" ry="8.0" fill="#860600"/>
<ellipse cx="85.5" cy="71.1" rx="4.7" ry="4.7" fill="#860600"/>
<ellipse cx="113.3" cy="81.2" rx="3.8" ry="6.5" fill="#860600"/>
<path d="M51.9 104.3 L61.4 101.6 L73.7 100.3 L84.5 96.9 L91.3 98.9 L98.1 97.5 L103.5 99.6 L120.5 98.9 L120.5 111.1 L107.6 112.5 L94.0 118.6 L80.5 113.2 L70.9 115.9 L58.7 119.3 L51.9 123.3 Z" fill="#f4e816" stroke="#f4e816" stroke-width="4.3" stroke-linejoin="round"/>
<path d="M51.9 104.3 L61.4 101.6 L73.7 100.3 L84.5 96.9 L91.3 98.9 L98.1 97.5 L103.5 99.6 L120.5 98.9 L120.5 111.1 L107.6 112.5 L94.0 118.6 L80.5 113.2 L70.9 115.9 L58.7 119.3 L51.9 123.3 Z" fill="#6cd854" stroke="#6cd854" stroke-width="2.2" stroke-linejoin="round"/>
<path d="M51.9 104.3 L61.4 101.6 L73.7 100.3 L84.5 96.9 L91.3 98.9 L98.1 97.5 L103.5 99.6 L120.5 98.9 L120.5 111.1 L107.6 112.5 L94.0 118.6 L80.5 113.2 L70.9 115.9 L58.7 119.3 L51.9 123.3 Z" fill="#20c4e6"/>
<ellipse cx="90.0" cy="106.4" rx="30.4" ry="12.5" fill="#20c4e6"/>
<ellipse cx="92.0" cy="106.0" rx="25.9" ry="10.4" fill="#1870ee"/>
<ellipse cx="92.0" cy="106.0" rx="20.7" ry="8.3" fill="#0c34d2"/>
<ellipse cx="84.3" cy="105.1" rx="7.4" ry="5.6" fill="#0a1a9c"/>
<ellipse cx="94.0" cy="106.8" rx="7.4" ry="5.9" fill="#0a1a9c"/>
<ellipse cx="110.3" cy="104.3" rx="7.4" ry="7.4" fill="#0c34d2"/>
<ellipse cx="64.2" cy="110.0" rx="6.8" ry="7.7" fill="#1870ee"/>
<ellipse cx="63.5" cy="110.4" rx="4.4" ry="5.0" fill="#0c34d2"/>
<path d="M50.6 127.4 L58.7 124.7 L70.9 122.0 L80.5 118.6 L94.0 124.7 L107.6 117.9 L120.5 115.9 L120.5 169.5 L50.6 169.5 Z" fill="#f4e816" stroke="#f4e816" stroke-width="4.3" stroke-linejoin="round"/>
<path d="M50.6 127.4 L58.7 124.7 L70.9 122.0 L80.5 118.6 L94.0 124.7 L107.6 117.9 L120.5 115.9 L120.5 169.5 L50.6 169.5 Z" fill="#fa7a0c" stroke="#fa7a0c" stroke-width="2.2" stroke-linejoin="round"/>
<path d="M50.6 127.4 L58.7 124.7 L70.9 122.0 L80.5 118.6 L94.0 124.7 L107.6 117.9 L120.5 115.9 L120.5 169.5 L50.6 169.5 Z" fill="#e6220a"/>
<ellipse cx="61.4" cy="132.2" rx="8.0" ry="6.2" fill="#860600"/>
<ellipse cx="104.6" cy="130.1" rx="3.8" ry="8.0" fill="#860600"/>
<ellipse cx="100.8" cy="145.8" rx="5.0" ry="5.0" fill="#fa7a0c"/>
<ellipse cx="101.5" cy="148.5" rx="2.9" ry="2.9" fill="#f4e816"/>
<ellipse cx="93.4" cy="138.3" rx="3.5" ry="4.3" fill="#fa7a0c"/>
<ellipse cx="76.4" cy="136.9" rx="4.3" ry="3.5" fill="#fa7a0c"/></g></g><path d="M98.7 26.1 C104 25.5 111 26.5 114.6 28.9 C117.5 31 118.2 35 118.5 38.8 C119.3 52 120.2 66 119.7 78.5 C119.3 87 118 95 116.6 102.3 C115.4 109 114 116 112.6 122.1 C110.8 130 108.6 137 106.6 144.6 L101 145.3 C99.5 142.5 97.5 140 94.7 138 C90 134.8 84.5 133.4 78.9 133 C73.5 132.6 68 132.6 63 133.4 C60 134 57.5 136 55.3 138.3 L52.3 141.6 C52.8 134 54 126 55.6 118.1 C57.2 110 59.6 102 61.8 94.3 C63.5 86 65 78 67 70.5 C68.6 63.5 70.3 56.5 72.6 50.1 C74.6 45 77 40 80.5 36 C85.5 31 92 27.5 98.7 26.1 Z" fill="none" stroke="#000" stroke-width="1.3"/><g clip-path="url(#cr)"><rect x="40" y="15" width="170" height="150" fill="#f4e816"/><g filter="url(#b15)"><ellipse cx="163.7" cy="41.2" rx="6.8" ry="9.5" fill="#fa7a0c"/>
<ellipse cx="158.2" cy="30.3" rx="4.7" ry="5.9" fill="#e6220a"/>
<ellipse cx="156.9" cy="44.6" rx="3.8" ry="8.0" fill="#fa7a0c"/>
<ellipse cx="178.9" cy="39.8" rx="4.7" ry="5.6" fill="#fa7a0c"/>
<ellipse cx="178.9" cy="39.8" rx="3.2" ry="4.1" fill="#e6220a"/>
<ellipse cx="169.4" cy="32.3" rx="4.1" ry="5.6" fill="#b4e436"/>
<ellipse cx="153.6" cy="52.0" rx="3.5" ry="6.5" fill="#6cd854"/>
<ellipse cx="153.1" cy="53.4" rx="2.0" ry="4.3" fill="#20c4e6"/>
<ellipse cx="176.6" cy="55.4" rx="14.0" ry="7.4" fill="#b4e436" transform="rotate(15 176.6 55.4)"/>
<ellipse cx="176.6" cy="55.4" rx="12.5" ry="5.9" fill="#6cd854" transform="rotate(15 176.6 55.4)"/>
<ellipse cx="176.6" cy="55.4" rx="11.0" ry="4.4" fill="#34d4a4" transform="rotate(15 176.6 55.4)"/>
<ellipse cx="177.2" cy="56.1" rx="7.3" ry="2.9" fill="#2cd0c0" transform="rotate(15 177.2 56.1)"/>
<ellipse cx="187.3" cy="61.1" rx="4.1" ry="4.7" fill="#20c4e6"/>
<path d="M148.7 58.1 L154.2 57.9 L163.7 62.0 L177.2 66.0 L190.8 72.8 L197.6 77.2 L197.6 169.5 L148.7 169.5 Z" fill="#f4e816" stroke="#f4e816" stroke-width="4.3" stroke-linejoin="round"/>
<path d="M148.7 58.1 L154.2 57.9 L163.7 62.0 L177.2 66.0 L190.8 72.8 L197.6 77.2 L197.6 169.5 L148.7 169.5 Z" fill="#fa7a0c" stroke="#fa7a0c" stroke-width="2.2" stroke-linejoin="round"/>
<path d="M148.7 58.1 L154.2 57.9 L163.7 62.0 L177.2 66.0 L190.8 72.8 L197.6 77.2 L197.6 169.5 L148.7 169.5 Z" fill="#e6220a"/>
<ellipse cx="170.5" cy="75.8" rx="23.0" ry="14.7" fill="#860600"/>
<ellipse cx="192.2" cy="82.6" rx="6.5" ry="8.0" fill="#860600"/>
<ellipse cx="154.8" cy="93.5" rx="5.0" ry="15.5" fill="#860600"/>
<ellipse cx="195.2" cy="95.1" rx="3.5" ry="6.5" fill="#860600"/>
<ellipse cx="173.2" cy="102.3" rx="17.7" ry="9.2" fill="#f2580c"/>
<ellipse cx="167.7" cy="100.3" rx="9.5" ry="5.9" fill="#f6780e"/>
<ellipse cx="178.6" cy="105.7" rx="8.0" ry="4.3" fill="#f6780e"/>
<ellipse cx="195.7" cy="110.4" rx="2.8" ry="5.3" fill="#f4e816"/>
<ellipse cx="195.7" cy="110.4" rx="1.7" ry="4.3" fill="#6cd854"/>
<ellipse cx="157.6" cy="118.2" rx="4.7" ry="5.6" fill="#860600"/>
<ellipse cx="177.2" cy="120.4" rx="9.8" ry="5.9" fill="#860600"/>
<ellipse cx="177.2" cy="117.2" rx="3.5" ry="2.9" fill="#e6220a"/>
<path d="M148.7 135.6 L154.2 135.3 L166.4 132.8 L177.2 136.9 L190.8 135.6 L197.6 135.6 L197.6 169.5 L148.7 169.5 Z" fill="#fa7a0c" stroke="#fa7a0c" stroke-width="9.0" stroke-linejoin="round"/>
<path d="M148.7 135.6 L154.2 135.3 L166.4 132.8 L177.2 136.9 L190.8 135.6 L197.6 135.6 L197.6 169.5 L148.7 169.5 Z" fill="#f4e816" stroke="#f4e816" stroke-width="6.0" stroke-linejoin="round"/>
<path d="M148.7 135.6 L154.2 135.3 L166.4 132.8 L177.2 136.9 L190.8 135.6 L197.6 135.6 L197.6 169.5 L148.7 169.5 Z" fill="#6cd854" stroke="#6cd854" stroke-width="3.0" stroke-linejoin="round"/>
<path d="M148.7 135.6 L154.2 135.3 L166.4 132.8 L177.2 136.9 L190.8 135.6 L197.6 135.6 L197.6 169.5 L148.7 169.5 Z" fill="#20c4e6"/>
<ellipse cx="171.8" cy="145.1" rx="23.0" ry="8.0" fill="#1870ee"/>
<ellipse cx="173.2" cy="151.2" rx="20.0" ry="8.0" fill="#0c34d2"/>
<ellipse cx="173.9" cy="154.6" rx="12.5" ry="5.0" fill="#0a1a9c"/></g></g><path d="M160.2 22.9 C164 22.6 167.8 24 170.6 26.1 C174.6 29.2 178 32.8 180.9 36.8 C184.8 42.3 188 48.4 190.4 54.7 C193.4 62.3 195.4 70.4 196.5 78.5 C197.6 86.4 198.3 94.3 198.6 102.3 C198.9 111.5 198.9 120.7 198.6 130 C198.3 139.3 197.9 148.5 197.3 157.8 C193.2 156.6 189.6 156 186 155.8 C180.7 155.5 175.4 156.3 170.1 157 C166.1 157.5 162.2 158 158.2 157.8 C156.1 157.6 154 157 152.3 155.8 C151.6 143.2 151.2 130.7 151.1 118.1 C151 104.9 150.4 91.7 150.3 78.5 C150.2 67.9 150.5 57.3 151.5 46.7 C152 41.3 152.8 36 154.3 30.8 C155.2 27.6 157 24 160.2 22.9 Z" fill="none" stroke="#000" stroke-width="1.3"/>
</svg>
<rect x="27.00" y="299.00" width="8.30" height="120.70" fill="url(#jet)"/>
<text x="1.2" y="306.2" class="cb" textLength="20.3" lengthAdjust="spacingAndGlyphs">0.9</text>
<text x="1.2" y="423.3" class="cb" textLength="20.3" lengthAdjust="spacingAndGlyphs">0.6</text>
<text x="86.6" y="466.4" class="cap" style="font-size:11.7px" textLength="181.4" lengthAdjust="spacingAndGlyphs">Constrained: LB = 0.5, UB = 1.00</text>
<svg x="38.60" y="518.80" width="258.20" height="176.80" viewBox="0 0 258 177.5" preserveAspectRatio="none">
<use href="#ct" x="0" y="0" width="258" height="177.5"/>
<g clip-path="url(#cl)"><rect x="40" y="15" width="170" height="150" fill="#74d856"/><g filter="url(#b15)"><ellipse cx="100.8" cy="44.3" rx="23.0" ry="25.9" fill="#4cd890"/>
<ellipse cx="104.9" cy="37.5" rx="14.7" ry="15.5" fill="#30d0b8"/>
<ellipse cx="106.9" cy="32.7" rx="9.5" ry="8.8" fill="#22c4dc"/>
<ellipse cx="91.3" cy="53.8" rx="4.7" ry="11.0" fill="#30d0b8"/>
<ellipse cx="104.9" cy="59.2" rx="4.7" ry="9.5" fill="#30d0b8"/>
<ellipse cx="91.3" cy="37.5" rx="6.5" ry="11.0" fill="#22c4dc"/>
<ellipse cx="91.3" cy="36.1" rx="4.7" ry="8.8" fill="#1870ee"/>
<ellipse cx="91.3" cy="34.8" rx="3.2" ry="6.5" fill="#0c34d2"/>
<ellipse cx="90.2" cy="46.3" rx="2.0" ry="4.7" fill="#1870ee"/>
<ellipse cx="87.2" cy="102.7" rx="39.4" ry="17.0" fill="#4cd890"/>
<ellipse cx="88.6" cy="102.9" rx="34.2" ry="13.2" fill="#22c4dc"/>
<ellipse cx="64.2" cy="110.1" rx="11.0" ry="12.5" fill="#22c4dc"/>
<ellipse cx="66.9" cy="121.7" rx="5.6" ry="7.1" fill="#4cd890"/>
<ellipse cx="93.4" cy="103.8" rx="26.7" ry="10.4" fill="#1870ee"/>
<ellipse cx="84.3" cy="102.0" rx="9.2" ry="8.0" fill="#0c34d2"/>
<ellipse cx="95.1" cy="105.1" rx="9.2" ry="8.3" fill="#0c34d2"/>
<ellipse cx="106.9" cy="106.1" rx="7.7" ry="6.8" fill="#0c34d2"/>
<ellipse cx="84.0" cy="102.4" rx="5.3" ry="4.7" fill="#0a1a9c"/>
<ellipse cx="94.3" cy="105.7" rx="5.3" ry="4.7" fill="#0a1a9c"/>
<ellipse cx="83.4" cy="102.4" rx="2.6" ry="2.3" fill="#081278"/>
<ellipse cx="63.9" cy="109.5" rx="6.5" ry="8.0" fill="#1870ee"/>
<ellipse cx="63.3" cy="109.5" rx="4.1" ry="5.3" fill="#0c34d2"/></g></g><path d="M98.7 26.1 C104 25.5 111 26.5 114.6 28.9 C117.5 31 118.2 35 118.5 38.8 C119.3 52 120.2 66 119.7 78.5 C119.3 87 118 95 116.6 102.3 C115.4 109 114 116 112.6 122.1 C110.8 130 108.6 137 106.6 144.6 L101 145.3 C99.5 142.5 97.5 140 94.7 138 C90 134.8 84.5 133.4 78.9 133 C73.5 132.6 68 132.6 63 133.4 C60 134 57.5 136 55.3 138.3 L52.3 141.6 C52.8 134 54 126 55.6 118.1 C57.2 110 59.6 102 61.8 94.3 C63.5 86 65 78 67 70.5 C68.6 63.5 70.3 56.5 72.6 50.1 C74.6 45 77 40 80.5 36 C85.5 31 92 27.5 98.7 26.1 Z" fill="none" stroke="#000" stroke-width="1.3"/><g clip-path="url(#cr)"><rect x="40" y="15" width="170" height="150" fill="#74d856"/><g filter="url(#b15)"><ellipse cx="175.9" cy="51.1" rx="15.5" ry="11.0" fill="#4cd890"/>
<ellipse cx="174.5" cy="52.1" rx="9.5" ry="5.9" fill="#30d0b8"/>
<ellipse cx="187.0" cy="58.5" rx="6.5" ry="7.4" fill="#22c4dc"/>
<ellipse cx="188.7" cy="59.9" rx="3.2" ry="4.7" fill="#1870ee"/>
<ellipse cx="152.5" cy="51.1" rx="3.5" ry="9.5" fill="#4cd890"/>
<ellipse cx="171.8" cy="33.4" rx="9.5" ry="6.5" fill="#4cd890"/>
<path d="M148.7 129.8 L158.2 127.8 L166.4 123.0 L172.1 129.8 L180.0 131.5 L190.8 128.7 L197.6 130.1 L197.6 169.2 L148.7 169.2 Z" fill="#4cd890" stroke="#4cd890" stroke-width="4.9" stroke-linejoin="round"/>
<path d="M148.7 129.8 L158.2 127.8 L166.4 123.0 L172.1 129.8 L180.0 131.5 L190.8 128.7 L197.6 130.1 L197.6 169.2 L148.7 169.2 Z" fill="#22c4dc" stroke="#22c4dc" stroke-width="2.4" stroke-linejoin="round"/>
<path d="M148.7 129.8 L158.2 127.8 L166.4 123.0 L172.1 129.8 L180.0 131.5 L190.8 128.7 L197.6 130.1 L197.6 169.2 L148.7 169.2 Z" fill="#1870ee"/>
<ellipse cx="166.7" cy="134.2" rx="7.1" ry="8.9" fill="#0c34d2"/>
<ellipse cx="171.8" cy="147.5" rx="25.9" ry="9.8" fill="#0c34d2"/>
<ellipse cx="170.5" cy="151.6" rx="20.0" ry="6.5" fill="#0a1a9c"/>
<ellipse cx="181.3" cy="138.0" rx="6.5" ry="6.5" fill="#0c34d2"/>
<ellipse cx="194.2" cy="139.3" rx="3.2" ry="9.5" fill="#4cd890"/></g></g><path d="M160.2 22.9 C164 22.6 167.8 24 170.6 26.1 C174.6 29.2 178 32.8 180.9 36.8 C184.8 42.3 188 48.4 190.4 54.7 C193.4 62.3 195.4 70.4 196.5 78.5 C197.6 86.4 198.3 94.3 198.6 102.3 C198.9 111.5 198.9 120.7 198.6 130 C198.3 139.3 197.9 148.5 197.3 157.8 C193.2 156.6 189.6 156 186 155.8 C180.7 155.5 175.4 156.3 170.1 157 C166.1 157.5 162.2 158 158.2 157.8 C156.1 157.6 154 157 152.3 155.8 C151.6 143.2 151.2 130.7 151.1 118.1 C151 104.9 150.4 91.7 150.3 78.5 C150.2 67.9 150.5 57.3 151.5 46.7 C152 41.3 152.8 36 154.3 30.8 C155.2 27.6 157 24 160.2 22.9 Z" fill="none" stroke="#000" stroke-width="1.3"/>
</svg>
<rect x="27.00" y="539.80" width="8.30" height="119.80" fill="url(#jet)"/>
<text x="1.2" y="547.6" class="cb" textLength="20.3" lengthAdjust="spacingAndGlyphs">0.9</text>
<text x="1.2" y="663.6" class="cb" textLength="20.3" lengthAdjust="spacingAndGlyphs">0.6</text>
<text x="88.7" y="713.3" class="cap" style="font-size:11.7px" textLength="181.0" lengthAdjust="spacingAndGlyphs">Constrained: LB = 0.5, UB = 0.75</text>
<svg x="38.30" y="776.80" width="258.50" height="176.80" viewBox="0 0 258 177.5" preserveAspectRatio="none">
<use href="#ct" x="0" y="0" width="258" height="177.5"/>
<g clip-path="url(#cl)"><rect x="40" y="15" width="170" height="150" fill="#90e04e"/><g filter="url(#b2)"><path d="M98.7 26.1 C104 25.5 111 26.5 114.6 28.9 C117.5 31 118.2 35 118.5 38.8 C119.3 52 120.2 66 119.7 78.5 C119.3 87 118 95 116.6 102.3 C115.4 109 114 116 112.6 122.1 C110.8 130 108.6 137 106.6 144.6 L101 145.3 C99.5 142.5 97.5 140 94.7 138 C90 134.8 84.5 133.4 78.9 133 C73.5 132.6 68 132.6 63 133.4 C60 134 57.5 136 55.3 138.3 L52.3 141.6 C52.8 134 54 126 55.6 118.1 C57.2 110 59.6 102 61.8 94.3 C63.5 86 65 78 67 70.5 C68.6 63.5 70.3 56.5 72.6 50.1 C74.6 45 77 40 80.5 36 C85.5 31 92 27.5 98.7 26.1 Z" fill="none" stroke="#e6e61e" stroke-width="6.5"/>
<path d="M98.7 26.1 C104 25.5 111 26.5 114.6 28.9 C117.5 31 118.2 35 118.5 38.8 C119.3 52 120.2 66 119.7 78.5 C119.3 87 118 95 116.6 102.3 C115.4 109 114 116 112.6 122.1 C110.8 130 108.6 137 106.6 144.6 L101 145.3 C99.5 142.5 97.5 140 94.7 138 C90 134.8 84.5 133.4 78.9 133 C73.5 132.6 68 132.6 63 133.4 C60 134 57.5 136 55.3 138.3 L52.3 141.6 C52.8 134 54 126 55.6 118.1 C57.2 110 59.6 102 61.8 94.3 C63.5 86 65 78 67 70.5 C68.6 63.5 70.3 56.5 72.6 50.1 C74.6 45 77 40 80.5 36 C85.5 31 92 27.5 98.7 26.1 Z" fill="none" stroke="#fa7a0c" stroke-width="4.2"/>
<path d="M98.7 26.1 C104 25.5 111 26.5 114.6 28.9 C117.5 31 118.2 35 118.5 38.8 C119.3 52 120.2 66 119.7 78.5 C119.3 87 118 95 116.6 102.3 C115.4 109 114 116 112.6 122.1 C110.8 130 108.6 137 106.6 144.6 L101 145.3 C99.5 142.5 97.5 140 94.7 138 C90 134.8 84.5 133.4 78.9 133 C73.5 132.6 68 132.6 63 133.4 C60 134 57.5 136 55.3 138.3 L52.3 141.6 C52.8 134 54 126 55.6 118.1 C57.2 110 59.6 102 61.8 94.3 C63.5 86 65 78 67 70.5 C68.6 63.5 70.3 56.5 72.6 50.1 C74.6 45 77 40 80.5 36 C85.5 31 92 27.5 98.7 26.1 Z" fill="none" stroke="#e6220a" stroke-width="2.2"/>
<ellipse cx="106.3" cy="28.0" rx="12.5" ry="2.9" fill="#fa7a0c"/>
<ellipse cx="110.3" cy="26.1" rx="8.8" ry="1.9" fill="#e6220a"/>
<ellipse cx="76.7" cy="44.9" rx="2.5" ry="10.3" fill="#fa7a0c" transform="rotate(35 76.7 44.9)"/>
<ellipse cx="74.3" cy="46.3" rx="1.4" ry="8.0" fill="#e6220a" transform="rotate(35 74.3 46.3)"/>
<ellipse cx="66.9" cy="71.4" rx="1.7" ry="18.5" fill="#fa7a0c" transform="rotate(12 66.9 71.4)"/>
<ellipse cx="58.0" cy="120.3" rx="1.7" ry="15.5" fill="#fa7a0c" transform="rotate(12 58.0 120.3)"/>
<ellipse cx="100.8" cy="143.4" rx="6.5" ry="3.5" fill="#f4e816"/>
<ellipse cx="92.7" cy="139.3" rx="6.5" ry="1.7" fill="#fa7a0c" transform="rotate(20 92.7 139.3)"/>
<ellipse cx="87.2" cy="47.7" rx="10.3" ry="7.7" fill="#5cdc88"/>
<ellipse cx="87.2" cy="47.7" rx="5.5" ry="3.9" fill="#30ccc0"/>
<ellipse cx="109.7" cy="44.3" rx="6.2" ry="5.6" fill="#5cdc88"/>
<ellipse cx="109.7" cy="44.3" rx="3.1" ry="2.7" fill="#30ccc0"/>
<ellipse cx="109.8" cy="60.6" rx="5.6" ry="8.0" fill="#5cdc88"/>
<ellipse cx="109.8" cy="60.6" rx="2.7" ry="4.1" fill="#30ccc0"/>
<ellipse cx="76.4" cy="76.9" rx="9.2" ry="6.5" fill="#5cdc88"/>
<ellipse cx="76.4" cy="76.9" rx="4.8" ry="3.2" fill="#30ccc0"/>
<ellipse cx="94.0" cy="101.3" rx="8.9" ry="8.0" fill="#5cdc88"/>
<ellipse cx="94.0" cy="101.3" rx="4.7" ry="4.1" fill="#30ccc0"/>
<ellipse cx="68.2" cy="114.9" rx="8.3" ry="7.4" fill="#5cdc88"/>
<ellipse cx="68.2" cy="114.9" rx="4.3" ry="3.8" fill="#30ccc0"/>
<ellipse cx="64.2" cy="125.8" rx="6.5" ry="5.8" fill="#5cdc88"/>
<ellipse cx="64.2" cy="125.8" rx="3.2" ry="2.8" fill="#30ccc0"/>
<ellipse cx="100.8" cy="132.5" rx="5.0" ry="9.2" fill="#5cdc88"/>
<ellipse cx="100.8" cy="132.5" rx="2.3" ry="4.8" fill="#30ccc0"/>
<ellipse cx="110.3" cy="87.7" rx="4.4" ry="6.5" fill="#5cdc88"/>
<ellipse cx="110.3" cy="87.7" rx="2.0" ry="3.2" fill="#30ccc0"/>
<ellipse cx="90.0" cy="76.9" rx="7.1" ry="5.6" fill="#5cdc88"/>
<ellipse cx="90.0" cy="76.9" rx="3.6" ry="2.7" fill="#30ccc0"/>
<ellipse cx="77.7" cy="101.3" rx="7.4" ry="7.1" fill="#5cdc88"/>
<ellipse cx="77.7" cy="101.3" rx="3.8" ry="3.6" fill="#30ccc0"/>
<ellipse cx="73.7" cy="57.8" rx="5.0" ry="6.5" fill="#5cdc88"/>
<ellipse cx="73.7" cy="57.8" rx="2.3" ry="3.2" fill="#30ccc0"/>
<ellipse cx="106.3" cy="98.6" rx="5.0" ry="9.5" fill="#5cdc88"/>
<ellipse cx="106.3" cy="98.6" rx="2.3" ry="5.0" fill="#30ccc0"/>
<ellipse cx="109.8" cy="60.8" rx="1.9" ry="3.2" fill="#20a8e0"/>
<ellipse cx="98.1" cy="67.4" rx="6.9" ry="3.8" fill="#c0e62e"/>
<ellipse cx="80.5" cy="66.0" rx="6.6" ry="3.8" fill="#c0e62e"/>
<ellipse cx="100.8" cy="83.0" rx="6.9" ry="3.8" fill="#c0e62e"/>
<ellipse cx="81.8" cy="127.8" rx="6.1" ry="4.4" fill="#c0e62e"/>
<ellipse cx="83.2" cy="93.2" rx="5.6" ry="3.6" fill="#c0e62e"/>
<ellipse cx="70.9" cy="93.2" rx="4.1" ry="5.6" fill="#c0e62e"/>
<ellipse cx="104.9" cy="110.8" rx="3.8" ry="5.1" fill="#c0e62e"/>
<ellipse cx="98.1" cy="36.1" rx="5.6" ry="3.1" fill="#c0e62e"/></g></g><path d="M98.7 26.1 C104 25.5 111 26.5 114.6 28.9 C117.5 31 118.2 35 118.5 38.8 C119.3 52 120.2 66 119.7 78.5 C119.3 87 118 95 116.6 102.3 C115.4 109 114 116 112.6 122.1 C110.8 130 108.6 137 106.6 144.6 L101 145.3 C99.5 142.5 97.5 140 94.7 138 C90 134.8 84.5 133.4 78.9 133 C73.5 132.6 68 132.6 63 133.4 C60 134 57.5 136 55.3 138.3 L52.3 141.6 C52.8 134 54 126 55.6 118.1 C57.2 110 59.6 102 61.8 94.3 C63.5 86 65 78 67 70.5 C68.6 63.5 70.3 56.5 72.6 50.1 C74.6 45 77 40 80.5 36 C85.5 31 92 27.5 98.7 26.1 Z" fill="none" stroke="#000" stroke-width="1.3"/><g clip-path="url(#cr)"><rect x="40" y="15" width="170" height="150" fill="#f89410"/><g filter="url(#b2)"><path d="M160.2 22.9 C164 22.6 167.8 24 170.6 26.1 C174.6 29.2 178 32.8 180.9 36.8 C184.8 42.3 188 48.4 190.4 54.7 C193.4 62.3 195.4 70.4 196.5 78.5 C197.6 86.4 198.3 94.3 198.6 102.3 C198.9 111.5 198.9 120.7 198.6 130 C198.3 139.3 197.9 148.5 197.3 157.8 C193.2 156.6 189.6 156 186 155.8 C180.7 155.5 175.4 156.3 170.1 157 C166.1 157.5 162.2 158 158.2 157.8 C156.1 157.6 154 157 152.3 155.8 C151.6 143.2 151.2 130.7 151.1 118.1 C151 104.9 150.4 91.7 150.3 78.5 C150.2 67.9 150.5 57.3 151.5 46.7 C152 41.3 152.8 36 154.3 30.8 C155.2 27.6 157 24 160.2 22.9 Z" fill="none" stroke="#f0500c" stroke-width="4"/>
<ellipse cx="169.1" cy="34.8" rx="11.0" ry="8.8" fill="#f6c016"/>
<ellipse cx="167.1" cy="51.1" rx="18.5" ry="11.7" fill="#f2e01c"/>
<ellipse cx="167.7" cy="52.7" rx="14.3" ry="8.3" fill="#9ade48"/>
<ellipse cx="168.0" cy="49.7" rx="6.8" ry="3.8" fill="#c4e630"/>
<ellipse cx="158.2" cy="51.1" rx="4.1" ry="5.0" fill="#30ccb4"/>
<ellipse cx="177.9" cy="47.7" rx="3.5" ry="4.4" fill="#30ccb4"/>
<ellipse cx="169.1" cy="82.3" rx="25.2" ry="27.4" fill="#f4620c"/>
<ellipse cx="169.8" cy="85.0" rx="18.5" ry="20.0" fill="#ee3e0a"/>
<ellipse cx="156.9" cy="70.1" rx="8.8" ry="11.0" fill="#ee3e0a"/>
<ellipse cx="181.3" cy="93.2" rx="9.5" ry="11.0" fill="#ee3e0a"/>
<ellipse cx="187.0" cy="71.4" rx="4.4" ry="8.3" fill="#f4dc1a"/>
<ellipse cx="185.4" cy="62.6" rx="5.0" ry="5.9" fill="#f6c016"/>
<ellipse cx="171.1" cy="132.5" rx="23.7" ry="22.2" fill="#f2e01c"/>
<ellipse cx="171.1" cy="132.5" rx="19.7" ry="18.2" fill="#c4e630"/>
<ellipse cx="171.8" cy="133.9" rx="14.3" ry="13.2" fill="#96de4a"/>
<ellipse cx="185.4" cy="125.8" rx="5.3" ry="4.4" fill="#5cdc88"/>
<ellipse cx="156.9" cy="127.1" rx="3.8" ry="7.4" fill="#5cdc88"/>
<ellipse cx="170.5" cy="140.0" rx="8.8" ry="5.3" fill="#5cdc88"/>
<ellipse cx="182.7" cy="116.3" rx="3.2" ry="3.8" fill="#5cdc88"/>
<ellipse cx="163.7" cy="115.2" rx="2.6" ry="2.6" fill="#5cdc88"/>
<ellipse cx="185.7" cy="126.0" rx="2.6" ry="2.2" fill="#30ccb4"/>
<ellipse cx="170.5" cy="120.3" rx="5.6" ry="4.4" fill="#f2e01c"/>
<ellipse cx="177.2" cy="136.6" rx="5.0" ry="5.0" fill="#e6e61e"/>
<ellipse cx="195.2" cy="132.5" rx="3.8" ry="23.0" fill="#f89410"/>
<ellipse cx="173.2" cy="151.6" rx="24.4" ry="3.8" fill="#f89410"/>
<ellipse cx="152.8" cy="139.3" rx="2.6" ry="12.5" fill="#f89410"/></g></g><path d="M160.2 22.9 C164 22.6 167.8 24 170.6 26.1 C174.6 29.2 178 32.8 180.9 36.8 C184.8 42.3 188 48.4 190.4 54.7 C193.4 62.3 195.4 70.4 196.5 78.5 C197.6 86.4 198.3 94.3 198.6 102.3 C198.9 111.5 198.9 120.7 198.6 130 C198.3 139.3 197.9 148.5 197.3 157.8 C193.2 156.6 189.6 156 186 155.8 C180.7 155.5 175.4 156.3 170.1 157 C166.1 157.5 162.2 158 158.2 157.8 C156.1 157.6 154 157 152.3 155.8 C151.6 143.2 151.2 130.7 151.1 118.1 C151 104.9 150.4 91.7 150.3 78.5 C150.2 67.9 150.5 57.3 151.5 46.7 C152 41.3 152.8 36 154.3 30.8 C155.2 27.6 157 24 160.2 22.9 Z" fill="none" stroke="#000" stroke-width="1.3"/>
</svg>
<rect x="27.00" y="802.30" width="8.30" height="119.80" fill="url(#jet)"/>
<text x="1.2" y="809.8" class="cb" textLength="20.3" lengthAdjust="spacingAndGlyphs">0.9</text>
<text x="1.2" y="925.8" class="cb" textLength="20.3" lengthAdjust="spacingAndGlyphs">0.6</text>
<text x="53.7" y="969.9" class="cap" style="font-size:12.1px" textLength="239.4" lengthAdjust="spacingAndGlyphs">Constrained: SPECT Perfusion Correlation</text>
<g>
<line x1="388.20" y1="215.10" x2="627.92" y2="215.10" stroke="#3a4046" stroke-width="1"/>
<rect x="423.83" y="214.14" width="5.23" height="1.26" fill="#5fa6dc" stroke="#2f5f86" stroke-width="0.6"/>
<rect x="429.06" y="210.15" width="5.23" height="5.25" fill="#5fa6dc" stroke="#2f5f86" stroke-width="0.6"/>
<rect x="434.30" y="200.27" width="5.23" height="15.13" fill="#5fa6dc" stroke="#2f5f86" stroke-width="0.6"/>
<rect x="439.53" y="182.40" width="5.23" height="33.00" fill="#5fa6dc" stroke="#2f5f86" stroke-width="0.6"/>
<rect x="444.76" y="151.29" width="5.23" height="64.11" fill="#5fa6dc" stroke="#2f5f86" stroke-width="0.6"/>
<rect x="449.99" y="115.56" width="5.23" height="99.84" fill="#5fa6dc" stroke="#2f5f86" stroke-width="0.6"/>
<rect x="455.23" y="81.92" width="5.23" height="133.48" fill="#5fa6dc" stroke="#2f5f86" stroke-width="0.6"/>
<rect x="460.46" y="58.17" width="5.23" height="157.23" fill="#5fa6dc" stroke="#2f5f86" stroke-width="0.6"/>
<rect x="465.69" y="40.72" width="5.23" height="174.68" fill="#5fa6dc" stroke="#2f5f86" stroke-width="0.6"/>
<rect x="470.93" y="29.16" width="5.23" height="186.24" fill="#5fa6dc" stroke="#2f5f86" stroke-width="0.6"/>
<rect x="476.16" y="27.48" width="5.23" height="187.92" fill="#5fa6dc" stroke="#2f5f86" stroke-width="0.6"/>
<rect x="481.39" y="24.33" width="5.23" height="191.07" fill="#5fa6dc" stroke="#2f5f86" stroke-width="0.6"/>
<rect x="486.63" y="33.58" width="5.23" height="181.82" fill="#5fa6dc" stroke="#2f5f86" stroke-width="0.6"/>
<rect x="491.86" y="50.18" width="5.23" height="165.22" fill="#5fa6dc" stroke="#2f5f86" stroke-width="0.6"/>
<rect x="497.09" y="76.46" width="5.23" height="138.94" fill="#5fa6dc" stroke="#2f5f86" stroke-width="0.6"/>
<rect x="502.33" y="108.20" width="5.23" height="107.20" fill="#5fa6dc" stroke="#2f5f86" stroke-width="0.6"/>
<rect x="507.56" y="136.15" width="5.23" height="79.25" fill="#5fa6dc" stroke="#2f5f86" stroke-width="0.6"/>
<rect x="512.79" y="157.59" width="5.23" height="57.81" fill="#5fa6dc" stroke="#2f5f86" stroke-width="0.6"/>
<rect x="518.03" y="175.04" width="5.23" height="40.36" fill="#5fa6dc" stroke="#2f5f86" stroke-width="0.6"/>
<rect x="523.26" y="188.70" width="5.23" height="26.70" fill="#5fa6dc" stroke="#2f5f86" stroke-width="0.6"/>
<rect x="528.49" y="199.21" width="5.23" height="16.19" fill="#5fa6dc" stroke="#2f5f86" stroke-width="0.6"/>
<rect x="533.73" y="205.52" width="5.23" height="9.88" fill="#5fa6dc" stroke="#2f5f86" stroke-width="0.6"/>
<rect x="538.96" y="208.88" width="5.23" height="6.52" fill="#5fa6dc" stroke="#2f5f86" stroke-width="0.6"/>
<rect x="544.19" y="210.57" width="5.23" height="4.83" fill="#5fa6dc" stroke="#2f5f86" stroke-width="0.6"/>
<rect x="549.42" y="211.83" width="5.23" height="3.57" fill="#5fa6dc" stroke="#2f5f86" stroke-width="0.6"/>
<rect x="554.66" y="212.46" width="5.23" height="2.94" fill="#5fa6dc" stroke="#2f5f86" stroke-width="0.6"/>
<rect x="559.89" y="213.09" width="5.23" height="2.31" fill="#5fa6dc" stroke="#2f5f86" stroke-width="0.6"/>
<rect x="565.12" y="214.14" width="5.23" height="1.26" fill="#5fa6dc" stroke="#2f5f86" stroke-width="0.6"/>
<rect x="570.36" y="214.98" width="5.23" height="0.42" fill="#5fa6dc" stroke="#2f5f86" stroke-width="0.6"/>
<rect x="360.40" y="5.20" width="288.10" height="210.20" fill="none" stroke="#979797" stroke-width="0.95"/>
<text transform="translate(360.40 225.60) scale(1.02 1)" text-anchor="middle" class="tk" font-size="8.9">0.2</text>
<path d="M401.56 215.40v-2.60M401.56 5.20v2.60" stroke="#979797" stroke-width="0.8"/>
<text transform="translate(401.56 225.60) scale(1.02 1)" text-anchor="middle" class="tk" font-size="8.9">0.4</text>
<path d="M442.71 215.40v-2.60M442.71 5.20v2.60" stroke="#979797" stroke-width="0.8"/>
<text transform="translate(442.71 225.60) scale(1.02 1)" text-anchor="middle" class="tk" font-size="8.9">0.6</text>
<path d="M483.87 215.40v-2.60M483.87 5.20v2.60" stroke="#979797" stroke-width="0.8"/>
<text transform="translate(483.87 225.60) scale(1.02 1)" text-anchor="middle" class="tk" font-size="8.9">0.8</text>
<path d="M525.03 215.40v-2.60M525.03 5.20v2.60" stroke="#979797" stroke-width="0.8"/>
<text transform="translate(525.03 225.60) scale(1.02 1)" text-anchor="middle" class="tk" font-size="8.9">1</text>
<path d="M566.19 215.40v-2.60M566.19 5.20v2.60" stroke="#979797" stroke-width="0.8"/>
<text transform="translate(566.19 225.60) scale(1.02 1)" text-anchor="middle" class="tk" font-size="8.9">1.2</text>
<path d="M607.34 215.40v-2.60M607.34 5.20v2.60" stroke="#979797" stroke-width="0.8"/>
<text transform="translate(607.34 225.60) scale(1.02 1)" text-anchor="middle" class="tk" font-size="8.9">1.4</text>
<text transform="translate(648.50 225.60) scale(1.02 1)" text-anchor="middle" class="tk" font-size="8.9">1.6</text>
<text transform="translate(358.10 218.09) scale(1.02 1)" text-anchor="end" class="tk" font-size="8.9">0</text>
<path d="M360.40 194.38h2.60M648.50 194.38h-2.60" stroke="#979797" stroke-width="0.8"/>
<text transform="translate(358.10 197.07) scale(1.02 1)" text-anchor="end" class="tk" font-size="8.9">0.01</text>
<path d="M360.40 173.36h2.60M648.50 173.36h-2.60" stroke="#979797" stroke-width="0.8"/>
<text transform="translate(358.10 176.05) scale(1.02 1)" text-anchor="end" class="tk" font-size="8.9">0.02</text>
<path d="M360.40 152.34h2.60M648.50 152.34h-2.60" stroke="#979797" stroke-width="0.8"/>
<text transform="translate(358.10 155.03) scale(1.02 1)" text-anchor="end" class="tk" font-size="8.9">0.03</text>
<path d="M360.40 131.32h2.60M648.50 131.32h-2.60" stroke="#979797" stroke-width="0.8"/>
<text transform="translate(358.10 134.01) scale(1.02 1)" text-anchor="end" class="tk" font-size="8.9">0.04</text>
<path d="M360.40 110.30h2.60M648.50 110.30h-2.60" stroke="#979797" stroke-width="0.8"/>
<text transform="translate(358.10 112.99) scale(1.02 1)" text-anchor="end" class="tk" font-size="8.9">0.05</text>
<path d="M360.40 89.28h2.60M648.50 89.28h-2.60" stroke="#979797" stroke-width="0.8"/>
<text transform="translate(358.10 91.97) scale(1.02 1)" text-anchor="end" class="tk" font-size="8.9">0.06</text>
<path d="M360.40 68.26h2.60M648.50 68.26h-2.60" stroke="#979797" stroke-width="0.8"/>
<text transform="translate(358.10 70.95) scale(1.02 1)" text-anchor="end" class="tk" font-size="8.9">0.07</text>
<path d="M360.40 47.24h2.60M648.50 47.24h-2.60" stroke="#979797" stroke-width="0.8"/>
<text transform="translate(358.10 49.93) scale(1.02 1)" text-anchor="end" class="tk" font-size="8.9">0.08</text>
<path d="M360.40 26.22h2.60M648.50 26.22h-2.60" stroke="#979797" stroke-width="0.8"/>
<text transform="translate(358.10 28.91) scale(1.02 1)" text-anchor="end" class="tk" font-size="8.9">0.09</text>
<text transform="translate(358.10 7.89) scale(1.02 1)" text-anchor="end" class="tk" font-size="8.9">0.1</text>
<text x="504.45" y="240.40" text-anchor="middle" class="lb" font-size="11" textLength="19.6" lengthAdjust="spacingAndGlyphs">J(x)</text>
<text transform="translate(331.10 110.30) rotate(-90)" text-anchor="middle" class="lb" font-size="10.4" textLength="177.5" lengthAdjust="spacingAndGlyphs">Percentage of Jacobian Values</text>
</g>
<g>
<line x1="392.58" y1="464.00" x2="626.79" y2="464.00" stroke="#3a4046" stroke-width="1"/>
<rect x="427.38" y="463.43" width="5.11" height="0.87" fill="#5fa6dc" stroke="#2f5f86" stroke-width="0.6"/>
<rect x="432.49" y="460.66" width="5.11" height="3.64" fill="#5fa6dc" stroke="#2f5f86" stroke-width="0.6"/>
<rect x="437.60" y="453.80" width="5.11" height="10.50" fill="#5fa6dc" stroke="#2f5f86" stroke-width="0.6"/>
<rect x="442.72" y="441.41" width="5.11" height="22.89" fill="#5fa6dc" stroke="#2f5f86" stroke-width="0.6"/>
<rect x="447.83" y="419.84" width="5.11" height="44.46" fill="#5fa6dc" stroke="#2f5f86" stroke-width="0.6"/>
<rect x="452.94" y="395.05" width="5.11" height="69.25" fill="#5fa6dc" stroke="#2f5f86" stroke-width="0.6"/>
<rect x="458.06" y="371.73" width="5.11" height="92.57" fill="#5fa6dc" stroke="#2f5f86" stroke-width="0.6"/>
<rect x="463.17" y="355.25" width="5.11" height="109.05" fill="#5fa6dc" stroke="#2f5f86" stroke-width="0.6"/>
<rect x="468.28" y="343.15" width="5.11" height="121.15" fill="#5fa6dc" stroke="#2f5f86" stroke-width="0.6"/>
<rect x="473.40" y="335.13" width="5.11" height="129.17" fill="#5fa6dc" stroke="#2f5f86" stroke-width="0.6"/>
<rect x="478.51" y="333.97" width="5.11" height="130.33" fill="#5fa6dc" stroke="#2f5f86" stroke-width="0.6"/>
<rect x="483.62" y="331.78" width="5.11" height="132.52" fill="#5fa6dc" stroke="#2f5f86" stroke-width="0.6"/>
<rect x="488.74" y="338.20" width="5.11" height="126.10" fill="#5fa6dc" stroke="#2f5f86" stroke-width="0.6"/>
<rect x="493.85" y="349.71" width="5.11" height="114.59" fill="#5fa6dc" stroke="#2f5f86" stroke-width="0.6"/>
<rect x="498.96" y="367.94" width="5.11" height="96.36" fill="#5fa6dc" stroke="#2f5f86" stroke-width="0.6"/>
<rect x="504.07" y="389.95" width="5.11" height="74.35" fill="#5fa6dc" stroke="#2f5f86" stroke-width="0.6"/>
<rect x="509.19" y="409.34" width="5.11" height="54.96" fill="#5fa6dc" stroke="#2f5f86" stroke-width="0.6"/>
<rect x="514.30" y="424.21" width="5.11" height="40.09" fill="#5fa6dc" stroke="#2f5f86" stroke-width="0.6"/>
<rect x="519.41" y="436.31" width="5.11" height="27.99" fill="#5fa6dc" stroke="#2f5f86" stroke-width="0.6"/>
<rect x="524.53" y="445.79" width="5.11" height="18.51" fill="#5fa6dc" stroke="#2f5f86" stroke-width="0.6"/>
<rect x="529.64" y="453.07" width="5.11" height="11.23" fill="#5fa6dc" stroke="#2f5f86" stroke-width="0.6"/>
<rect x="534.75" y="457.45" width="5.11" height="6.85" fill="#5fa6dc" stroke="#2f5f86" stroke-width="0.6"/>
<rect x="539.87" y="459.78" width="5.11" height="4.52" fill="#5fa6dc" stroke="#2f5f86" stroke-width="0.6"/>
<rect x="544.98" y="460.95" width="5.11" height="3.35" fill="#5fa6dc" stroke="#2f5f86" stroke-width="0.6"/>
<rect x="550.09" y="461.82" width="5.11" height="2.48" fill="#5fa6dc" stroke="#2f5f86" stroke-width="0.6"/>
<rect x="555.21" y="462.26" width="5.11" height="2.04" fill="#5fa6dc" stroke="#2f5f86" stroke-width="0.6"/>
<rect x="560.32" y="462.70" width="5.11" height="1.60" fill="#5fa6dc" stroke="#2f5f86" stroke-width="0.6"/>
<rect x="565.43" y="463.43" width="5.11" height="0.87" fill="#5fa6dc" stroke="#2f5f86" stroke-width="0.6"/>
<rect x="570.55" y="464.01" width="5.11" height="0.29" fill="#5fa6dc" stroke="#2f5f86" stroke-width="0.6"/>
<g>
<rect x="447.83" y="455.26" width="5.11" height="9.04" fill="#ee9669" stroke="#9a5432" stroke-width="0.6"/>
<rect x="447.83" y="455.26" width="5.11" height="9.04" fill="#a56955" stroke="#6e4232" stroke-width="0.6"/>
<rect x="452.94" y="425.52" width="5.11" height="38.78" fill="#ee9669" stroke="#9a5432" stroke-width="0.6"/>
<rect x="452.94" y="425.52" width="5.11" height="38.78" fill="#a56955" stroke="#6e4232" stroke-width="0.6"/>
<rect x="458.06" y="377.85" width="5.11" height="86.45" fill="#ee9669" stroke="#9a5432" stroke-width="0.6"/>
<rect x="458.06" y="377.85" width="5.11" height="86.45" fill="#a56955" stroke="#6e4232" stroke-width="0.6"/>
<rect x="463.17" y="357.44" width="5.11" height="106.86" fill="#ee9669" stroke="#9a5432" stroke-width="0.6"/>
<rect x="463.17" y="357.44" width="5.11" height="106.86" fill="#a56955" stroke="#6e4232" stroke-width="0.6"/>
<rect x="468.28" y="311.23" width="5.11" height="153.07" fill="#ee9669" stroke="#9a5432" stroke-width="0.6"/>
<rect x="468.28" y="343.15" width="5.11" height="121.15" fill="#a56955" stroke="#6e4232" stroke-width="0.6"/>
<rect x="473.40" y="286.15" width="5.11" height="178.15" fill="#ee9669" stroke="#9a5432" stroke-width="0.6"/>
<rect x="473.40" y="335.13" width="5.11" height="129.17" fill="#a56955" stroke="#6e4232" stroke-width="0.6"/>
<rect x="478.51" y="283.09" width="5.11" height="181.21" fill="#ee9669" stroke="#9a5432" stroke-width="0.6"/>
<rect x="478.51" y="333.97" width="5.11" height="130.33" fill="#a56955" stroke="#6e4232" stroke-width="0.6"/>
<rect x="483.62" y="288.34" width="5.11" height="175.96" fill="#ee9669" stroke="#9a5432" stroke-width="0.6"/>
<rect x="483.62" y="331.78" width="5.11" height="132.52" fill="#a56955" stroke="#6e4232" stroke-width="0.6"/>
<rect x="488.74" y="301.02" width="5.11" height="163.28" fill="#ee9669" stroke="#9a5432" stroke-width="0.6"/>
<rect x="488.74" y="338.20" width="5.11" height="126.10" fill="#a56955" stroke="#6e4232" stroke-width="0.6"/>
<rect x="493.85" y="333.97" width="5.11" height="130.33" fill="#ee9669" stroke="#9a5432" stroke-width="0.6"/>
<rect x="493.85" y="349.71" width="5.11" height="114.59" fill="#a56955" stroke="#6e4232" stroke-width="0.6"/>
<rect x="498.96" y="377.85" width="5.11" height="86.45" fill="#ee9669" stroke="#9a5432" stroke-width="0.6"/>
<rect x="498.96" y="377.85" width="5.11" height="86.45" fill="#a56955" stroke="#6e4232" stroke-width="0.6"/>
<rect x="504.07" y="410.51" width="5.11" height="53.79" fill="#ee9669" stroke="#9a5432" stroke-width="0.6"/>
<rect x="504.07" y="410.51" width="5.11" height="53.79" fill="#a56955" stroke="#6e4232" stroke-width="0.6"/>
<rect x="509.19" y="427.56" width="5.11" height="36.74" fill="#ee9669" stroke="#9a5432" stroke-width="0.6"/>
<rect x="509.19" y="427.56" width="5.11" height="36.74" fill="#a56955" stroke="#6e4232" stroke-width="0.6"/>
<rect x="514.30" y="438.79" width="5.11" height="25.51" fill="#ee9669" stroke="#9a5432" stroke-width="0.6"/>
<rect x="514.30" y="438.79" width="5.11" height="25.51" fill="#a56955" stroke="#6e4232" stroke-width="0.6"/>
<rect x="519.41" y="444.04" width="5.11" height="20.26" fill="#ee9669" stroke="#9a5432" stroke-width="0.6"/>
<rect x="519.41" y="444.04" width="5.11" height="20.26" fill="#a56955" stroke="#6e4232" stroke-width="0.6"/>
<rect x="524.53" y="457.30" width="5.11" height="7.00" fill="#ee9669" stroke="#9a5432" stroke-width="0.6"/>
<rect x="524.53" y="457.30" width="5.11" height="7.00" fill="#a56955" stroke="#6e4232" stroke-width="0.6"/>
</g>
<rect x="365.40" y="260.20" width="281.50" height="204.10" fill="none" stroke="#979797" stroke-width="0.95"/>
<text transform="translate(365.40 475.20) scale(1.02 1)" text-anchor="middle" class="tk" font-size="9.8">0.2</text>
<path d="M405.61 464.30v-2.60M405.61 260.20v2.60" stroke="#979797" stroke-width="0.8"/>
<text transform="translate(405.61 475.20) scale(1.02 1)" text-anchor="middle" class="tk" font-size="9.8">0.4</text>
<path d="M445.83 464.30v-2.60M445.83 260.20v2.60" stroke="#979797" stroke-width="0.8"/>
<text transform="translate(445.83 475.20) scale(1.02 1)" text-anchor="middle" class="tk" font-size="9.8">0.6</text>
<path d="M486.04 464.30v-2.60M486.04 260.20v2.60" stroke="#979797" stroke-width="0.8"/>
<text transform="translate(486.04 475.20) scale(1.02 1)" text-anchor="middle" class="tk" font-size="9.8">0.8</text>
<path d="M526.26 464.30v-2.60M526.26 260.20v2.60" stroke="#979797" stroke-width="0.8"/>
<text transform="translate(526.26 475.20) scale(1.02 1)" text-anchor="middle" class="tk" font-size="9.8">1</text>
<path d="M566.47 464.30v-2.60M566.47 260.20v2.60" stroke="#979797" stroke-width="0.8"/>
<text transform="translate(566.47 475.20) scale(1.02 1)" text-anchor="middle" class="tk" font-size="9.8">1.2</text>
<path d="M606.69 464.30v-2.60M606.69 260.20v2.60" stroke="#979797" stroke-width="0.8"/>
<text transform="translate(606.69 475.20) scale(1.02 1)" text-anchor="middle" class="tk" font-size="9.8">1.4</text>
<text transform="translate(646.90 475.20) scale(1.02 1)" text-anchor="middle" class="tk" font-size="9.8">1.6</text>
<text transform="translate(362.20 467.31) scale(1.02 1)" text-anchor="end" class="tk" font-size="9.8">0</text>
<path d="M365.40 435.14h2.60M646.90 435.14h-2.60" stroke="#979797" stroke-width="0.8"/>
<text transform="translate(362.20 438.15) scale(1.02 1)" text-anchor="end" class="tk" font-size="9.8">0.02</text>
<path d="M365.40 405.99h2.60M646.90 405.99h-2.60" stroke="#979797" stroke-width="0.8"/>
<text transform="translate(362.20 408.99) scale(1.02 1)" text-anchor="end" class="tk" font-size="9.8">0.04</text>
<path d="M365.40 376.83h2.60M646.90 376.83h-2.60" stroke="#979797" stroke-width="0.8"/>
<text transform="translate(362.20 379.84) scale(1.02 1)" text-anchor="end" class="tk" font-size="9.8">0.06</text>
<path d="M365.40 347.67h2.60M646.90 347.67h-2.60" stroke="#979797" stroke-width="0.8"/>
<text transform="translate(362.20 350.68) scale(1.02 1)" text-anchor="end" class="tk" font-size="9.8">0.08</text>
<path d="M365.40 318.51h2.60M646.90 318.51h-2.60" stroke="#979797" stroke-width="0.8"/>
<text transform="translate(362.20 321.52) scale(1.02 1)" text-anchor="end" class="tk" font-size="9.8">0.1</text>
<path d="M365.40 289.36h2.60M646.90 289.36h-2.60" stroke="#979797" stroke-width="0.8"/>
<text transform="translate(362.20 292.37) scale(1.02 1)" text-anchor="end" class="tk" font-size="9.8">0.12</text>
<text transform="translate(362.20 263.21) scale(1.02 1)" text-anchor="end" class="tk" font-size="9.8">0.14</text>
<text x="506.15" y="488.70" text-anchor="middle" class="lb" font-size="11" textLength="19.6" lengthAdjust="spacingAndGlyphs">J(x)</text>
<text transform="translate(330.80 362.25) rotate(-90)" text-anchor="middle" class="lb" font-size="10.4" textLength="179.4" lengthAdjust="spacingAndGlyphs">Percentage of Jacobian Values</text>
<rect x="563.40" y="262.30" width="80.50" height="21.70" fill="#fff" stroke="#6e6e6e" stroke-width="0.7"/>
<rect x="565.40" y="265.20" width="10.30" height="6.60" fill="#5fa6dc" stroke="#2f5f86" stroke-width="0.6"/>
<rect x="565.40" y="275.60" width="10.30" height="6.60" fill="#ec9468" stroke="#8a4a2a" stroke-width="0.6"/>
<text x="577.50" y="271.50" class="lg" font-size="8.6" textLength="64.30" lengthAdjust="spacingAndGlyphs">Unconstrained</text>
<text x="577.50" y="281.90" class="lg" font-size="8.6" textLength="53.05" lengthAdjust="spacingAndGlyphs">Constrained</text>
</g>
<g>
<line x1="389.77" y1="712.10" x2="625.65" y2="712.10" stroke="#3a4046" stroke-width="1"/>
<rect x="424.82" y="712.20" width="5.15" height="0.20" fill="#5fa6dc" stroke="#2f5f86" stroke-width="0.6"/>
<rect x="429.97" y="711.55" width="5.15" height="0.85" fill="#5fa6dc" stroke="#2f5f86" stroke-width="0.6"/>
<rect x="435.12" y="709.95" width="5.15" height="2.45" fill="#5fa6dc" stroke="#2f5f86" stroke-width="0.6"/>
<rect x="440.27" y="707.06" width="5.15" height="5.34" fill="#5fa6dc" stroke="#2f5f86" stroke-width="0.6"/>
<rect x="445.41" y="702.02" width="5.15" height="10.38" fill="#5fa6dc" stroke="#2f5f86" stroke-width="0.6"/>
<rect x="450.56" y="696.24" width="5.15" height="16.16" fill="#5fa6dc" stroke="#2f5f86" stroke-width="0.6"/>
<rect x="455.71" y="690.80" width="5.15" height="21.60" fill="#5fa6dc" stroke="#2f5f86" stroke-width="0.6"/>
<rect x="460.86" y="686.96" width="5.15" height="25.44" fill="#5fa6dc" stroke="#2f5f86" stroke-width="0.6"/>
<rect x="466.01" y="684.13" width="5.15" height="28.27" fill="#5fa6dc" stroke="#2f5f86" stroke-width="0.6"/>
<rect x="471.16" y="682.26" width="5.15" height="30.14" fill="#5fa6dc" stroke="#2f5f86" stroke-width="0.6"/>
<rect x="476.31" y="681.99" width="5.15" height="30.41" fill="#5fa6dc" stroke="#2f5f86" stroke-width="0.6"/>
<rect x="481.46" y="681.48" width="5.15" height="30.92" fill="#5fa6dc" stroke="#2f5f86" stroke-width="0.6"/>
<rect x="486.61" y="682.98" width="5.15" height="29.42" fill="#5fa6dc" stroke="#2f5f86" stroke-width="0.6"/>
<rect x="491.76" y="685.66" width="5.15" height="26.74" fill="#5fa6dc" stroke="#2f5f86" stroke-width="0.6"/>
<rect x="496.91" y="689.91" width="5.15" height="22.49" fill="#5fa6dc" stroke="#2f5f86" stroke-width="0.6"/>
<rect x="502.06" y="695.05" width="5.15" height="17.35" fill="#5fa6dc" stroke="#2f5f86" stroke-width="0.6"/>
<rect x="507.21" y="699.58" width="5.15" height="12.82" fill="#5fa6dc" stroke="#2f5f86" stroke-width="0.6"/>
<rect x="512.36" y="703.05" width="5.15" height="9.35" fill="#5fa6dc" stroke="#2f5f86" stroke-width="0.6"/>
<rect x="517.51" y="705.87" width="5.15" height="6.53" fill="#5fa6dc" stroke="#2f5f86" stroke-width="0.6"/>
<rect x="522.66" y="708.08" width="5.15" height="4.32" fill="#5fa6dc" stroke="#2f5f86" stroke-width="0.6"/>
<rect x="527.81" y="709.78" width="5.15" height="2.62" fill="#5fa6dc" stroke="#2f5f86" stroke-width="0.6"/>
<rect x="532.96" y="710.80" width="5.15" height="1.60" fill="#5fa6dc" stroke="#2f5f86" stroke-width="0.6"/>
<rect x="538.11" y="711.35" width="5.15" height="1.05" fill="#5fa6dc" stroke="#2f5f86" stroke-width="0.6"/>
<rect x="543.26" y="711.62" width="5.15" height="0.78" fill="#5fa6dc" stroke="#2f5f86" stroke-width="0.6"/>
<rect x="548.41" y="711.82" width="5.15" height="0.58" fill="#5fa6dc" stroke="#2f5f86" stroke-width="0.6"/>
<rect x="553.56" y="711.92" width="5.15" height="0.48" fill="#5fa6dc" stroke="#2f5f86" stroke-width="0.6"/>
<rect x="558.71" y="712.03" width="5.15" height="0.37" fill="#5fa6dc" stroke="#2f5f86" stroke-width="0.6"/>
<rect x="563.86" y="712.20" width="5.15" height="0.20" fill="#5fa6dc" stroke="#2f5f86" stroke-width="0.6"/>
<rect x="569.00" y="712.33" width="5.15" height="0.07" fill="#5fa6dc" stroke="#2f5f86" stroke-width="0.6"/>
<g>
<rect x="445.41" y="710.53" width="5.15" height="1.87" fill="#ee9669" stroke="#9a5432" stroke-width="0.6"/>
<rect x="445.41" y="710.53" width="5.15" height="1.87" fill="#a56955" stroke="#6e4232" stroke-width="0.6"/>
<rect x="450.56" y="701.68" width="5.15" height="10.72" fill="#ee9669" stroke="#9a5432" stroke-width="0.6"/>
<rect x="450.56" y="701.68" width="5.15" height="10.72" fill="#a56955" stroke="#6e4232" stroke-width="0.6"/>
<rect x="455.71" y="686.38" width="5.15" height="26.02" fill="#ee9669" stroke="#9a5432" stroke-width="0.6"/>
<rect x="455.71" y="690.80" width="5.15" height="21.60" fill="#a56955" stroke="#6e4232" stroke-width="0.6"/>
<rect x="460.86" y="671.92" width="5.15" height="40.48" fill="#ee9669" stroke="#9a5432" stroke-width="0.6"/>
<rect x="460.86" y="686.96" width="5.15" height="25.44" fill="#a56955" stroke="#6e4232" stroke-width="0.6"/>
<rect x="466.01" y="631.24" width="5.15" height="81.16" fill="#ee9669" stroke="#9a5432" stroke-width="0.6"/>
<rect x="466.01" y="684.13" width="5.15" height="28.27" fill="#a56955" stroke="#6e4232" stroke-width="0.6"/>
<rect x="471.16" y="533.61" width="5.15" height="178.79" fill="#ee9669" stroke="#9a5432" stroke-width="0.6"/>
<rect x="471.16" y="682.26" width="5.15" height="30.14" fill="#a56955" stroke="#6e4232" stroke-width="0.6"/>
</g>
<rect x="362.40" y="508.30" width="283.50" height="204.10" fill="none" stroke="#979797" stroke-width="0.95"/>
<text transform="translate(362.40 722.80) scale(1.03 1)" text-anchor="middle" class="tk" font-size="9.8">0.2</text>
<path d="M402.90 712.40v-2.60M402.90 508.30v2.60" stroke="#979797" stroke-width="0.8"/>
<text transform="translate(402.90 722.80) scale(1.03 1)" text-anchor="middle" class="tk" font-size="9.8">0.4</text>
<path d="M443.40 712.40v-2.60M443.40 508.30v2.60" stroke="#979797" stroke-width="0.8"/>
<text transform="translate(443.40 722.80) scale(1.03 1)" text-anchor="middle" class="tk" font-size="9.8">0.6</text>
<path d="M483.90 712.40v-2.60M483.90 508.30v2.60" stroke="#979797" stroke-width="0.8"/>
<text transform="translate(483.90 722.80) scale(1.03 1)" text-anchor="middle" class="tk" font-size="9.8">0.8</text>
<path d="M524.40 712.40v-2.60M524.40 508.30v2.60" stroke="#979797" stroke-width="0.8"/>
<text transform="translate(524.40 722.80) scale(1.03 1)" text-anchor="middle" class="tk" font-size="9.8">1</text>
<path d="M564.90 712.40v-2.60M564.90 508.30v2.60" stroke="#979797" stroke-width="0.8"/>
<text transform="translate(564.90 722.80) scale(1.03 1)" text-anchor="middle" class="tk" font-size="9.8">1.2</text>
<path d="M605.40 712.40v-2.60M605.40 508.30v2.60" stroke="#979797" stroke-width="0.8"/>
<text transform="translate(605.40 722.80) scale(1.03 1)" text-anchor="middle" class="tk" font-size="9.8">1.4</text>
<text transform="translate(645.90 722.80) scale(1.03 1)" text-anchor="middle" class="tk" font-size="9.8">1.6</text>
<text transform="translate(359.70 715.41) scale(1.03 1)" text-anchor="end" class="tk" font-size="9.8">0</text>
<path d="M362.40 678.38h2.60M645.90 678.38h-2.60" stroke="#979797" stroke-width="0.8"/>
<text transform="translate(359.70 681.39) scale(1.03 1)" text-anchor="end" class="tk" font-size="9.8">0.1</text>
<path d="M362.40 644.37h2.60M645.90 644.37h-2.60" stroke="#979797" stroke-width="0.8"/>
<text transform="translate(359.70 647.38) scale(1.03 1)" text-anchor="end" class="tk" font-size="9.8">0.2</text>
<path d="M362.40 610.35h2.60M645.90 610.35h-2.60" stroke="#979797" stroke-width="0.8"/>
<text transform="translate(359.70 613.36) scale(1.03 1)" text-anchor="end" class="tk" font-size="9.8">0.3</text>
<path d="M362.40 576.33h2.60M645.90 576.33h-2.60" stroke="#979797" stroke-width="0.8"/>
<text transform="translate(359.70 579.34) scale(1.03 1)" text-anchor="end" class="tk" font-size="9.8">0.4</text>
<path d="M362.40 542.32h2.60M645.90 542.32h-2.60" stroke="#979797" stroke-width="0.8"/>
<text transform="translate(359.70 545.33) scale(1.03 1)" text-anchor="end" class="tk" font-size="9.8">0.5</text>
<text transform="translate(359.70 511.31) scale(1.03 1)" text-anchor="end" class="tk" font-size="9.8">0.6</text>
<text x="504.15" y="736.70" text-anchor="middle" class="lb" font-size="11" textLength="19.6" lengthAdjust="spacingAndGlyphs">J(x)</text>
<text transform="translate(335.20 610.35) rotate(-90)" text-anchor="middle" class="lb" font-size="10.4" textLength="178.7" lengthAdjust="spacingAndGlyphs">Percentage of Jacobian Values</text>
<rect x="561.90" y="511.50" width="80.90" height="21.30" fill="#fff" stroke="#6e6e6e" stroke-width="0.7"/>
<rect x="563.90" y="514.20" width="10.30" height="6.40" fill="#5fa6dc" stroke="#2f5f86" stroke-width="0.6"/>
<rect x="563.90" y="523.70" width="10.30" height="6.40" fill="#ec9468" stroke="#8a4a2a" stroke-width="0.6"/>
<text x="576.00" y="520.30" class="lg" font-size="8.6" textLength="64.70" lengthAdjust="spacingAndGlyphs">Unconstrained</text>
<text x="576.00" y="529.80" class="lg" font-size="8.6" textLength="53.38" lengthAdjust="spacingAndGlyphs">Constrained</text>
</g>
<g>
<line x1="387.82" y1="966.90" x2="627.71" y2="966.90" stroke="#3a4046" stroke-width="1"/>
<rect x="423.47" y="966.78" width="5.24" height="0.42" fill="#5fa6dc" stroke="#2f5f86" stroke-width="0.6"/>
<rect x="428.71" y="965.45" width="5.24" height="1.75" fill="#5fa6dc" stroke="#2f5f86" stroke-width="0.6"/>
<rect x="433.95" y="962.17" width="5.24" height="5.03" fill="#5fa6dc" stroke="#2f5f86" stroke-width="0.6"/>
<rect x="439.18" y="956.24" width="5.24" height="10.96" fill="#5fa6dc" stroke="#2f5f86" stroke-width="0.6"/>
<rect x="444.42" y="945.90" width="5.24" height="21.30" fill="#5fa6dc" stroke="#2f5f86" stroke-width="0.6"/>
<rect x="449.66" y="934.03" width="5.24" height="33.17" fill="#5fa6dc" stroke="#2f5f86" stroke-width="0.6"/>
<rect x="454.89" y="922.86" width="5.24" height="44.34" fill="#5fa6dc" stroke="#2f5f86" stroke-width="0.6"/>
<rect x="460.13" y="914.96" width="5.24" height="52.24" fill="#5fa6dc" stroke="#2f5f86" stroke-width="0.6"/>
<rect x="465.37" y="909.17" width="5.24" height="58.03" fill="#5fa6dc" stroke="#2f5f86" stroke-width="0.6"/>
<rect x="470.60" y="905.33" width="5.24" height="61.87" fill="#5fa6dc" stroke="#2f5f86" stroke-width="0.6"/>
<rect x="475.84" y="904.77" width="5.24" height="62.43" fill="#5fa6dc" stroke="#2f5f86" stroke-width="0.6"/>
<rect x="481.08" y="903.72" width="5.24" height="63.48" fill="#5fa6dc" stroke="#2f5f86" stroke-width="0.6"/>
<rect x="486.31" y="906.79" width="5.24" height="60.41" fill="#5fa6dc" stroke="#2f5f86" stroke-width="0.6"/>
<rect x="491.55" y="912.31" width="5.24" height="54.89" fill="#5fa6dc" stroke="#2f5f86" stroke-width="0.6"/>
<rect x="496.79" y="921.04" width="5.24" height="46.16" fill="#5fa6dc" stroke="#2f5f86" stroke-width="0.6"/>
<rect x="502.02" y="931.59" width="5.24" height="35.62" fill="#5fa6dc" stroke="#2f5f86" stroke-width="0.6"/>
<rect x="507.26" y="940.87" width="5.24" height="26.33" fill="#5fa6dc" stroke="#2f5f86" stroke-width="0.6"/>
<rect x="512.50" y="948.00" width="5.24" height="19.20" fill="#5fa6dc" stroke="#2f5f86" stroke-width="0.6"/>
<rect x="517.74" y="953.79" width="5.24" height="13.41" fill="#5fa6dc" stroke="#2f5f86" stroke-width="0.6"/>
<rect x="522.97" y="958.33" width="5.24" height="8.87" fill="#5fa6dc" stroke="#2f5f86" stroke-width="0.6"/>
<rect x="528.21" y="961.82" width="5.24" height="5.38" fill="#5fa6dc" stroke="#2f5f86" stroke-width="0.6"/>
<rect x="533.45" y="963.92" width="5.24" height="3.28" fill="#5fa6dc" stroke="#2f5f86" stroke-width="0.6"/>
<rect x="538.68" y="965.04" width="5.24" height="2.16" fill="#5fa6dc" stroke="#2f5f86" stroke-width="0.6"/>
<rect x="543.92" y="965.59" width="5.24" height="1.61" fill="#5fa6dc" stroke="#2f5f86" stroke-width="0.6"/>
<rect x="549.16" y="966.01" width="5.24" height="1.19" fill="#5fa6dc" stroke="#2f5f86" stroke-width="0.6"/>
<rect x="554.39" y="966.22" width="5.24" height="0.98" fill="#5fa6dc" stroke="#2f5f86" stroke-width="0.6"/>
<rect x="559.63" y="966.43" width="5.24" height="0.77" fill="#5fa6dc" stroke="#2f5f86" stroke-width="0.6"/>
<rect x="564.87" y="966.78" width="5.24" height="0.42" fill="#5fa6dc" stroke="#2f5f86" stroke-width="0.6"/>
<rect x="570.10" y="967.06" width="5.24" height="0.14" fill="#5fa6dc" stroke="#2f5f86" stroke-width="0.6"/>
<g>
<rect x="460.13" y="964.90" width="5.24" height="2.30" fill="#ee9669" stroke="#9a5432" stroke-width="0.6"/>
<rect x="460.13" y="964.90" width="5.24" height="2.30" fill="#a56955" stroke="#6e4232" stroke-width="0.6"/>
<rect x="465.37" y="942.69" width="5.24" height="24.51" fill="#ee9669" stroke="#9a5432" stroke-width="0.6"/>
<rect x="465.37" y="942.69" width="5.24" height="24.51" fill="#a56955" stroke="#6e4232" stroke-width="0.6"/>
<rect x="470.60" y="860.15" width="5.24" height="107.05" fill="#ee9669" stroke="#9a5432" stroke-width="0.6"/>
<rect x="470.60" y="905.33" width="5.24" height="61.87" fill="#a56955" stroke="#6e4232" stroke-width="0.6"/>
<rect x="475.84" y="786.12" width="5.24" height="181.08" fill="#ee9669" stroke="#9a5432" stroke-width="0.6"/>
<rect x="475.84" y="904.77" width="5.24" height="62.43" fill="#a56955" stroke="#6e4232" stroke-width="0.6"/>
<rect x="481.08" y="780.75" width="5.24" height="186.46" fill="#ee9669" stroke="#9a5432" stroke-width="0.6"/>
<rect x="481.08" y="903.72" width="5.24" height="63.48" fill="#a56955" stroke="#6e4232" stroke-width="0.6"/>
<rect x="486.31" y="823.90" width="5.24" height="143.30" fill="#ee9669" stroke="#9a5432" stroke-width="0.6"/>
<rect x="486.31" y="906.79" width="5.24" height="60.41" fill="#a56955" stroke="#6e4232" stroke-width="0.6"/>
<rect x="491.55" y="915.94" width="5.24" height="51.26" fill="#ee9669" stroke="#9a5432" stroke-width="0.6"/>
<rect x="491.55" y="915.94" width="5.24" height="51.26" fill="#a56955" stroke="#6e4232" stroke-width="0.6"/>
</g>
<rect x="360.00" y="757.70" width="288.30" height="209.50" fill="none" stroke="#979797" stroke-width="0.95"/>
<text transform="translate(360.00 977.80) scale(0.97 1)" text-anchor="middle" class="tk" font-size="9.4">0.2</text>
<path d="M401.19 967.20v-2.60M401.19 757.70v2.60" stroke="#979797" stroke-width="0.8"/>
<text transform="translate(401.19 977.80) scale(0.97 1)" text-anchor="middle" class="tk" font-size="9.4">0.4</text>
<path d="M442.37 967.20v-2.60M442.37 757.70v2.60" stroke="#979797" stroke-width="0.8"/>
<text transform="translate(442.37 977.80) scale(0.97 1)" text-anchor="middle" class="tk" font-size="9.4">0.6</text>
<path d="M483.56 967.20v-2.60M483.56 757.70v2.60" stroke="#979797" stroke-width="0.8"/>
<text transform="translate(483.56 977.80) scale(0.97 1)" text-anchor="middle" class="tk" font-size="9.4">0.8</text>
<path d="M524.74 967.20v-2.60M524.74 757.70v2.60" stroke="#979797" stroke-width="0.8"/>
<text transform="translate(524.74 977.80) scale(0.97 1)" text-anchor="middle" class="tk" font-size="9.4">1</text>
<path d="M565.93 967.20v-2.60M565.93 757.70v2.60" stroke="#979797" stroke-width="0.8"/>
<text transform="translate(565.93 977.80) scale(0.97 1)" text-anchor="middle" class="tk" font-size="9.4">1.2</text>
<path d="M607.11 967.20v-2.60M607.11 757.70v2.60" stroke="#979797" stroke-width="0.8"/>
<text transform="translate(607.11 977.80) scale(0.97 1)" text-anchor="middle" class="tk" font-size="9.4">1.4</text>
<text transform="translate(648.30 977.80) scale(0.97 1)" text-anchor="middle" class="tk" font-size="9.4">1.6</text>
<text transform="translate(357.20 970.07) scale(0.97 1)" text-anchor="end" class="tk" font-size="9.4">0</text>
<path d="M360.00 932.28h2.60M648.30 932.28h-2.60" stroke="#979797" stroke-width="0.8"/>
<text transform="translate(357.20 935.15) scale(0.97 1)" text-anchor="end" class="tk" font-size="9.4">0.05</text>
<path d="M360.00 897.37h2.60M648.30 897.37h-2.60" stroke="#979797" stroke-width="0.8"/>
<text transform="translate(357.20 900.23) scale(0.97 1)" text-anchor="end" class="tk" font-size="9.4">0.1</text>
<path d="M360.00 862.45h2.60M648.30 862.45h-2.60" stroke="#979797" stroke-width="0.8"/>
<text transform="translate(357.20 865.32) scale(0.97 1)" text-anchor="end" class="tk" font-size="9.4">0.15</text>
<path d="M360.00 827.53h2.60M648.30 827.53h-2.60" stroke="#979797" stroke-width="0.8"/>
<text transform="translate(357.20 830.40) scale(0.97 1)" text-anchor="end" class="tk" font-size="9.4">0.2</text>
<path d="M360.00 792.62h2.60M648.30 792.62h-2.60" stroke="#979797" stroke-width="0.8"/>
<text transform="translate(357.20 795.48) scale(0.97 1)" text-anchor="end" class="tk" font-size="9.4">0.25</text>
<text transform="translate(357.20 760.57) scale(0.97 1)" text-anchor="end" class="tk" font-size="9.4">0.3</text>
<text x="504.15" y="991.60" text-anchor="middle" class="lb" font-size="11" textLength="19.6" lengthAdjust="spacingAndGlyphs">J(x)</text>
<text transform="translate(330.10 862.45) rotate(-90)" text-anchor="middle" class="lb" font-size="10.4" textLength="178.3" lengthAdjust="spacingAndGlyphs">Percentage of Jacobian Values</text>
<rect x="573.30" y="760.40" width="72.50" height="20.90" fill="#fff" stroke="#6e6e6e" stroke-width="0.7"/>
<rect x="575.30" y="763.40" width="8.70" height="6.20" fill="#5fa6dc" stroke="#2f5f86" stroke-width="0.6"/>
<rect x="575.30" y="772.10" width="8.70" height="6.20" fill="#ec9468" stroke="#8a4a2a" stroke-width="0.6"/>
<text x="585.80" y="769.30" class="lg" font-size="8.6" textLength="57.90" lengthAdjust="spacingAndGlyphs">Unconstrained</text>
<text x="585.80" y="778.00" class="lg" font-size="8.6" textLength="47.77" lengthAdjust="spacingAndGlyphs">Constrained</text>
</g>
</svg></body></html>
